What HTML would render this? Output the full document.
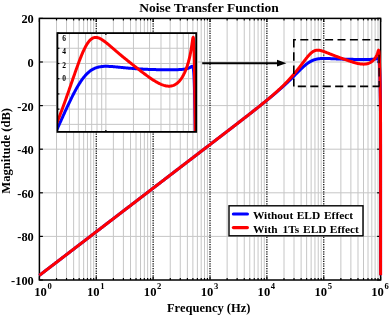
<!DOCTYPE html>
<html><head><meta charset="utf-8"><style>
html,body{margin:0;padding:0;background:#fff;}
svg{display:block;will-change:transform;}
</style></head><body>
<svg width="390" height="315" viewBox="0 0 390 315">
<rect width="390" height="315" fill="#fff"/>
<g stroke="#c6c6c6" stroke-width="1">
<line x1="56.52" y1="18.4" x2="56.52" y2="280.0"/>
<line x1="66.53" y1="18.4" x2="66.53" y2="280.0"/>
<line x1="73.64" y1="18.4" x2="73.64" y2="280.0"/>
<line x1="79.15" y1="18.4" x2="79.15" y2="280.0"/>
<line x1="83.65" y1="18.4" x2="83.65" y2="280.0"/>
<line x1="87.46" y1="18.4" x2="87.46" y2="280.0"/>
<line x1="90.76" y1="18.4" x2="90.76" y2="280.0"/>
<line x1="93.67" y1="18.4" x2="93.67" y2="280.0"/>
<line x1="113.39" y1="18.4" x2="113.39" y2="280.0"/>
<line x1="123.4" y1="18.4" x2="123.4" y2="280.0"/>
<line x1="130.51" y1="18.4" x2="130.51" y2="280.0"/>
<line x1="136.02" y1="18.4" x2="136.02" y2="280.0"/>
<line x1="140.52" y1="18.4" x2="140.52" y2="280.0"/>
<line x1="144.33" y1="18.4" x2="144.33" y2="280.0"/>
<line x1="147.63" y1="18.4" x2="147.63" y2="280.0"/>
<line x1="150.54" y1="18.4" x2="150.54" y2="280.0"/>
<line x1="170.26" y1="18.4" x2="170.26" y2="280.0"/>
<line x1="180.27" y1="18.4" x2="180.27" y2="280.0"/>
<line x1="187.38" y1="18.4" x2="187.38" y2="280.0"/>
<line x1="192.89" y1="18.4" x2="192.89" y2="280.0"/>
<line x1="197.39" y1="18.4" x2="197.39" y2="280.0"/>
<line x1="201.2" y1="18.4" x2="201.2" y2="280.0"/>
<line x1="204.5" y1="18.4" x2="204.5" y2="280.0"/>
<line x1="207.41" y1="18.4" x2="207.41" y2="280.0"/>
<line x1="227.13" y1="18.4" x2="227.13" y2="280.0"/>
<line x1="237.14" y1="18.4" x2="237.14" y2="280.0"/>
<line x1="244.25" y1="18.4" x2="244.25" y2="280.0"/>
<line x1="249.76" y1="18.4" x2="249.76" y2="280.0"/>
<line x1="254.26" y1="18.4" x2="254.26" y2="280.0"/>
<line x1="258.07" y1="18.4" x2="258.07" y2="280.0"/>
<line x1="261.37" y1="18.4" x2="261.37" y2="280.0"/>
<line x1="264.28" y1="18.4" x2="264.28" y2="280.0"/>
<line x1="284" y1="18.4" x2="284" y2="280.0"/>
<line x1="294.01" y1="18.4" x2="294.01" y2="280.0"/>
<line x1="301.12" y1="18.4" x2="301.12" y2="280.0"/>
<line x1="306.63" y1="18.4" x2="306.63" y2="280.0"/>
<line x1="311.13" y1="18.4" x2="311.13" y2="280.0"/>
<line x1="314.94" y1="18.4" x2="314.94" y2="280.0"/>
<line x1="318.24" y1="18.4" x2="318.24" y2="280.0"/>
<line x1="321.15" y1="18.4" x2="321.15" y2="280.0"/>
<line x1="340.87" y1="18.4" x2="340.87" y2="280.0"/>
<line x1="350.88" y1="18.4" x2="350.88" y2="280.0"/>
<line x1="357.99" y1="18.4" x2="357.99" y2="280.0"/>
<line x1="363.5" y1="18.4" x2="363.5" y2="280.0"/>
<line x1="368" y1="18.4" x2="368" y2="280.0"/>
<line x1="371.81" y1="18.4" x2="371.81" y2="280.0"/>
<line x1="375.11" y1="18.4" x2="375.11" y2="280.0"/>
<line x1="378.02" y1="18.4" x2="378.02" y2="280.0"/>
<line x1="39.4" y1="62" x2="380.62" y2="62"/>
<line x1="39.4" y1="105.6" x2="380.62" y2="105.6"/>
<line x1="39.4" y1="149.2" x2="380.62" y2="149.2"/>
<line x1="39.4" y1="192.8" x2="380.62" y2="192.8"/>
<line x1="39.4" y1="236.4" x2="380.62" y2="236.4"/>
</g>
<g stroke="#000" stroke-width="1.25" stroke-dasharray="1.25 1.15">
<line x1="96.27" y1="18.4" x2="96.27" y2="280.0"/>
<line x1="153.14" y1="18.4" x2="153.14" y2="280.0"/>
<line x1="210.01" y1="18.4" x2="210.01" y2="280.0"/>
<line x1="266.88" y1="18.4" x2="266.88" y2="280.0"/>
<line x1="323.75" y1="18.4" x2="323.75" y2="280.0"/>
</g>
<g stroke="#000" stroke-width="1.2">
<line x1="39.4" y1="280.0" x2="39.4" y2="276.5"/>
<line x1="39.4" y1="18.4" x2="39.4" y2="21.9"/>
<line x1="56.52" y1="280.0" x2="56.52" y2="278.0"/>
<line x1="56.52" y1="18.4" x2="56.52" y2="20.4"/>
<line x1="66.53" y1="280.0" x2="66.53" y2="278.0"/>
<line x1="66.53" y1="18.4" x2="66.53" y2="20.4"/>
<line x1="73.64" y1="280.0" x2="73.64" y2="278.0"/>
<line x1="73.64" y1="18.4" x2="73.64" y2="20.4"/>
<line x1="79.15" y1="280.0" x2="79.15" y2="278.0"/>
<line x1="79.15" y1="18.4" x2="79.15" y2="20.4"/>
<line x1="83.65" y1="280.0" x2="83.65" y2="278.0"/>
<line x1="83.65" y1="18.4" x2="83.65" y2="20.4"/>
<line x1="87.46" y1="280.0" x2="87.46" y2="278.0"/>
<line x1="87.46" y1="18.4" x2="87.46" y2="20.4"/>
<line x1="90.76" y1="280.0" x2="90.76" y2="278.0"/>
<line x1="90.76" y1="18.4" x2="90.76" y2="20.4"/>
<line x1="93.67" y1="280.0" x2="93.67" y2="278.0"/>
<line x1="93.67" y1="18.4" x2="93.67" y2="20.4"/>
<line x1="96.27" y1="280.0" x2="96.27" y2="276.5"/>
<line x1="96.27" y1="18.4" x2="96.27" y2="21.9"/>
<line x1="113.39" y1="280.0" x2="113.39" y2="278.0"/>
<line x1="113.39" y1="18.4" x2="113.39" y2="20.4"/>
<line x1="123.4" y1="280.0" x2="123.4" y2="278.0"/>
<line x1="123.4" y1="18.4" x2="123.4" y2="20.4"/>
<line x1="130.51" y1="280.0" x2="130.51" y2="278.0"/>
<line x1="130.51" y1="18.4" x2="130.51" y2="20.4"/>
<line x1="136.02" y1="280.0" x2="136.02" y2="278.0"/>
<line x1="136.02" y1="18.4" x2="136.02" y2="20.4"/>
<line x1="140.52" y1="280.0" x2="140.52" y2="278.0"/>
<line x1="140.52" y1="18.4" x2="140.52" y2="20.4"/>
<line x1="144.33" y1="280.0" x2="144.33" y2="278.0"/>
<line x1="144.33" y1="18.4" x2="144.33" y2="20.4"/>
<line x1="147.63" y1="280.0" x2="147.63" y2="278.0"/>
<line x1="147.63" y1="18.4" x2="147.63" y2="20.4"/>
<line x1="150.54" y1="280.0" x2="150.54" y2="278.0"/>
<line x1="150.54" y1="18.4" x2="150.54" y2="20.4"/>
<line x1="153.14" y1="280.0" x2="153.14" y2="276.5"/>
<line x1="153.14" y1="18.4" x2="153.14" y2="21.9"/>
<line x1="170.26" y1="280.0" x2="170.26" y2="278.0"/>
<line x1="170.26" y1="18.4" x2="170.26" y2="20.4"/>
<line x1="180.27" y1="280.0" x2="180.27" y2="278.0"/>
<line x1="180.27" y1="18.4" x2="180.27" y2="20.4"/>
<line x1="187.38" y1="280.0" x2="187.38" y2="278.0"/>
<line x1="187.38" y1="18.4" x2="187.38" y2="20.4"/>
<line x1="192.89" y1="280.0" x2="192.89" y2="278.0"/>
<line x1="192.89" y1="18.4" x2="192.89" y2="20.4"/>
<line x1="197.39" y1="280.0" x2="197.39" y2="278.0"/>
<line x1="197.39" y1="18.4" x2="197.39" y2="20.4"/>
<line x1="201.2" y1="280.0" x2="201.2" y2="278.0"/>
<line x1="201.2" y1="18.4" x2="201.2" y2="20.4"/>
<line x1="204.5" y1="280.0" x2="204.5" y2="278.0"/>
<line x1="204.5" y1="18.4" x2="204.5" y2="20.4"/>
<line x1="207.41" y1="280.0" x2="207.41" y2="278.0"/>
<line x1="207.41" y1="18.4" x2="207.41" y2="20.4"/>
<line x1="210.01" y1="280.0" x2="210.01" y2="276.5"/>
<line x1="210.01" y1="18.4" x2="210.01" y2="21.9"/>
<line x1="227.13" y1="280.0" x2="227.13" y2="278.0"/>
<line x1="227.13" y1="18.4" x2="227.13" y2="20.4"/>
<line x1="237.14" y1="280.0" x2="237.14" y2="278.0"/>
<line x1="237.14" y1="18.4" x2="237.14" y2="20.4"/>
<line x1="244.25" y1="280.0" x2="244.25" y2="278.0"/>
<line x1="244.25" y1="18.4" x2="244.25" y2="20.4"/>
<line x1="249.76" y1="280.0" x2="249.76" y2="278.0"/>
<line x1="249.76" y1="18.4" x2="249.76" y2="20.4"/>
<line x1="254.26" y1="280.0" x2="254.26" y2="278.0"/>
<line x1="254.26" y1="18.4" x2="254.26" y2="20.4"/>
<line x1="258.07" y1="280.0" x2="258.07" y2="278.0"/>
<line x1="258.07" y1="18.4" x2="258.07" y2="20.4"/>
<line x1="261.37" y1="280.0" x2="261.37" y2="278.0"/>
<line x1="261.37" y1="18.4" x2="261.37" y2="20.4"/>
<line x1="264.28" y1="280.0" x2="264.28" y2="278.0"/>
<line x1="264.28" y1="18.4" x2="264.28" y2="20.4"/>
<line x1="266.88" y1="280.0" x2="266.88" y2="276.5"/>
<line x1="266.88" y1="18.4" x2="266.88" y2="21.9"/>
<line x1="284" y1="280.0" x2="284" y2="278.0"/>
<line x1="284" y1="18.4" x2="284" y2="20.4"/>
<line x1="294.01" y1="280.0" x2="294.01" y2="278.0"/>
<line x1="294.01" y1="18.4" x2="294.01" y2="20.4"/>
<line x1="301.12" y1="280.0" x2="301.12" y2="278.0"/>
<line x1="301.12" y1="18.4" x2="301.12" y2="20.4"/>
<line x1="306.63" y1="280.0" x2="306.63" y2="278.0"/>
<line x1="306.63" y1="18.4" x2="306.63" y2="20.4"/>
<line x1="311.13" y1="280.0" x2="311.13" y2="278.0"/>
<line x1="311.13" y1="18.4" x2="311.13" y2="20.4"/>
<line x1="314.94" y1="280.0" x2="314.94" y2="278.0"/>
<line x1="314.94" y1="18.4" x2="314.94" y2="20.4"/>
<line x1="318.24" y1="280.0" x2="318.24" y2="278.0"/>
<line x1="318.24" y1="18.4" x2="318.24" y2="20.4"/>
<line x1="321.15" y1="280.0" x2="321.15" y2="278.0"/>
<line x1="321.15" y1="18.4" x2="321.15" y2="20.4"/>
<line x1="323.75" y1="280.0" x2="323.75" y2="276.5"/>
<line x1="323.75" y1="18.4" x2="323.75" y2="21.9"/>
<line x1="340.87" y1="280.0" x2="340.87" y2="278.0"/>
<line x1="340.87" y1="18.4" x2="340.87" y2="20.4"/>
<line x1="350.88" y1="280.0" x2="350.88" y2="278.0"/>
<line x1="350.88" y1="18.4" x2="350.88" y2="20.4"/>
<line x1="357.99" y1="280.0" x2="357.99" y2="278.0"/>
<line x1="357.99" y1="18.4" x2="357.99" y2="20.4"/>
<line x1="363.5" y1="280.0" x2="363.5" y2="278.0"/>
<line x1="363.5" y1="18.4" x2="363.5" y2="20.4"/>
<line x1="368" y1="280.0" x2="368" y2="278.0"/>
<line x1="368" y1="18.4" x2="368" y2="20.4"/>
<line x1="371.81" y1="280.0" x2="371.81" y2="278.0"/>
<line x1="371.81" y1="18.4" x2="371.81" y2="20.4"/>
<line x1="375.11" y1="280.0" x2="375.11" y2="278.0"/>
<line x1="375.11" y1="18.4" x2="375.11" y2="20.4"/>
<line x1="378.02" y1="280.0" x2="378.02" y2="278.0"/>
<line x1="378.02" y1="18.4" x2="378.02" y2="20.4"/>
<line x1="380.62" y1="280.0" x2="380.62" y2="276.5"/>
<line x1="380.62" y1="18.4" x2="380.62" y2="21.9"/>
<line x1="39.4" y1="18.4" x2="42.9" y2="18.4"/>
<line x1="380.62" y1="18.4" x2="377.12" y2="18.4"/>
<line x1="39.4" y1="62" x2="42.9" y2="62"/>
<line x1="380.62" y1="62" x2="377.12" y2="62"/>
<line x1="39.4" y1="105.6" x2="42.9" y2="105.6"/>
<line x1="380.62" y1="105.6" x2="377.12" y2="105.6"/>
<line x1="39.4" y1="149.2" x2="42.9" y2="149.2"/>
<line x1="380.62" y1="149.2" x2="377.12" y2="149.2"/>
<line x1="39.4" y1="192.8" x2="42.9" y2="192.8"/>
<line x1="380.62" y1="192.8" x2="377.12" y2="192.8"/>
<line x1="39.4" y1="236.4" x2="42.9" y2="236.4"/>
<line x1="380.62" y1="236.4" x2="377.12" y2="236.4"/>
<line x1="39.4" y1="280" x2="42.9" y2="280"/>
<line x1="380.62" y1="280" x2="377.12" y2="280"/>
</g>
<rect x="39.4" y="18.4" width="341.22" height="261.6" fill="none" stroke="#000" stroke-width="1.5"/>
<clipPath id="mc"><rect x="37.4" y="18.4" width="345.22" height="261.6"/></clipPath>
<g clip-path="url(#mc)" fill="none" stroke-width="3" stroke-linejoin="round">
<path stroke="#0000ff" d="M39.4,275.36 L39.86,275.01 L40.31,274.66 L40.77,274.32 L41.22,273.97 L41.68,273.62 L42.13,273.27 L42.59,272.92 L43.04,272.57 L43.5,272.22 L43.95,271.87 L44.41,271.52 L44.86,271.17 L45.32,270.83 L45.77,270.48 L46.23,270.13 L46.68,269.78 L47.14,269.43 L47.59,269.08 L48.05,268.73 L48.51,268.38 L48.96,268.03 L49.42,267.68 L49.87,267.34 L50.33,266.99 L50.78,266.64 L51.24,266.29 L51.69,265.94 L52.15,265.59 L52.6,265.24 L53.06,264.89 L53.51,264.54 L53.97,264.19 L54.42,263.84 L54.88,263.5 L55.33,263.15 L55.79,262.8 L56.24,262.45 L56.7,262.1 L57.16,261.75 L57.61,261.4 L58.07,261.05 L58.52,260.7 L58.98,260.35 L59.43,260.01 L59.89,259.66 L60.34,259.31 L60.8,258.96 L61.25,258.61 L61.71,258.26 L62.16,257.91 L62.62,257.56 L63.07,257.21 L63.53,256.86 L63.98,256.52 L64.44,256.17 L64.89,255.82 L65.35,255.47 L65.81,255.12 L66.26,254.77 L66.72,254.42 L67.17,254.07 L67.63,253.72 L68.08,253.37 L68.54,253.02 L68.99,252.68 L69.45,252.33 L69.9,251.98 L70.36,251.63 L70.81,251.28 L71.27,250.93 L71.72,250.58 L72.18,250.23 L72.63,249.88 L73.09,249.53 L73.54,249.19 L74,248.84 L74.46,248.49 L74.91,248.14 L75.37,247.79 L75.82,247.44 L76.28,247.09 L76.73,246.74 L77.19,246.39 L77.64,246.04 L78.1,245.7 L78.55,245.35 L79.01,245 L79.46,244.65 L79.92,244.3 L80.37,243.95 L80.83,243.6 L81.28,243.25 L81.74,242.9 L82.19,242.55 L82.65,242.2 L83.11,241.86 L83.56,241.51 L84.02,241.16 L84.47,240.81 L84.93,240.46 L85.38,240.11 L85.84,239.76 L86.29,239.41 L86.75,239.06 L87.2,238.71 L87.66,238.37 L88.11,238.02 L88.57,237.67 L89.02,237.32 L89.48,236.97 L89.93,236.62 L90.39,236.27 L90.84,235.92 L91.3,235.57 L91.76,235.22 L92.21,234.88 L92.67,234.53 L93.12,234.18 L93.58,233.83 L94.03,233.48 L94.49,233.13 L94.94,232.78 L95.4,232.43 L95.85,232.08 L96.31,231.73 L96.76,231.38 L97.22,231.04 L97.67,230.69 L98.13,230.34 L98.58,229.99 L99.04,229.64 L99.49,229.29 L99.95,228.94 L100.41,228.59 L100.86,228.24 L101.32,227.89 L101.77,227.55 L102.23,227.2 L102.68,226.85 L103.14,226.5 L103.59,226.15 L104.05,225.8 L104.5,225.45 L104.96,225.1 L105.41,224.75 L105.87,224.4 L106.32,224.06 L106.78,223.71 L107.23,223.36 L107.69,223.01 L108.14,222.66 L108.6,222.31 L109.06,221.96 L109.51,221.61 L109.97,221.26 L110.42,220.91 L110.88,220.56 L111.33,220.22 L111.79,219.87 L112.24,219.52 L112.7,219.17 L113.15,218.82 L113.61,218.47 L114.06,218.12 L114.52,217.77 L114.97,217.42 L115.43,217.07 L115.88,216.73 L116.34,216.38 L116.79,216.03 L117.25,215.68 L117.71,215.33 L118.16,214.98 L118.62,214.63 L119.07,214.28 L119.53,213.93 L119.98,213.58 L120.44,213.24 L120.89,212.89 L121.35,212.54 L121.8,212.19 L122.26,211.84 L122.71,211.49 L123.17,211.14 L123.62,210.79 L124.08,210.44 L124.53,210.09 L124.99,209.74 L125.44,209.4 L125.9,209.05 L126.36,208.7 L126.81,208.35 L127.27,208 L127.72,207.65 L128.18,207.3 L128.63,206.95 L129.09,206.6 L129.54,206.25 L130,205.91 L130.45,205.56 L130.91,205.21 L131.36,204.86 L131.82,204.51 L132.27,204.16 L132.73,203.81 L133.18,203.46 L133.64,203.11 L134.09,202.76 L134.55,202.42 L135.01,202.07 L135.46,201.72 L135.92,201.37 L136.37,201.02 L136.83,200.67 L137.28,200.32 L137.74,199.97 L138.19,199.62 L138.65,199.27 L139.1,198.92 L139.56,198.58 L140.01,198.23 L140.47,197.88 L140.92,197.53 L141.38,197.18 L141.83,196.83 L142.29,196.48 L142.74,196.13 L143.2,195.78 L143.66,195.43 L144.11,195.09 L144.57,194.74 L145.02,194.39 L145.48,194.04 L145.93,193.69 L146.39,193.34 L146.84,192.99 L147.3,192.64 L147.75,192.29 L148.21,191.94 L148.66,191.6 L149.12,191.25 L149.57,190.9 L150.03,190.55 L150.48,190.2 L150.94,189.85 L151.39,189.5 L151.85,189.15 L152.31,188.8 L152.76,188.45 L153.22,188.1 L153.67,187.76 L154.13,187.41 L154.58,187.06 L155.04,186.71 L155.49,186.36 L155.95,186.01 L156.4,185.66 L156.86,185.31 L157.31,184.96 L157.77,184.61 L158.22,184.27 L158.68,183.92 L159.13,183.57 L159.59,183.22 L160.04,182.87 L160.5,182.52 L160.96,182.17 L161.41,181.82 L161.87,181.47 L162.32,181.12 L162.78,180.77 L163.23,180.43 L163.69,180.08 L164.14,179.73 L164.6,179.38 L165.05,179.03 L165.51,178.68 L165.96,178.33 L166.42,177.98 L166.87,177.63 L167.33,177.28 L167.78,176.94 L168.24,176.59 L168.69,176.24 L169.15,175.89 L169.61,175.54 L170.06,175.19 L170.52,174.84 L170.97,174.49 L171.43,174.14 L171.88,173.79 L172.34,173.45 L172.79,173.1 L173.25,172.75 L173.7,172.4 L174.16,172.05 L174.61,171.7 L175.07,171.35 L175.52,171 L175.98,170.65 L176.43,170.3 L176.89,169.95 L177.34,169.61 L177.8,169.26 L178.26,168.91 L178.71,168.56 L179.17,168.21 L179.62,167.86 L180.08,167.51 L180.53,167.16 L180.99,166.81 L181.44,166.46 L181.9,166.11 L182.35,165.77 L182.81,165.42 L183.26,165.07 L183.72,164.72 L184.17,164.37 L184.63,164.02 L185.08,163.67 L185.54,163.32 L185.99,162.97 L186.45,162.62 L186.91,162.28 L187.36,161.93 L187.82,161.58 L188.27,161.23 L188.73,160.88 L189.18,160.53 L189.64,160.18 L190.09,159.83 L190.55,159.48 L191,159.13 L191.46,158.78 L191.91,158.44 L192.37,158.09 L192.82,157.74 L193.28,157.39 L193.73,157.04 L194.19,156.69 L194.64,156.34 L195.1,155.99 L195.56,155.64 L196.01,155.29 L196.47,154.94 L196.92,154.59 L197.38,154.25 L197.83,153.9 L198.29,153.55 L198.74,153.2 L199.2,152.85 L199.65,152.5 L200.11,152.15 L200.56,151.8 L201.02,151.45 L201.47,151.1 L201.93,150.75 L202.38,150.4 L202.84,150.06 L203.29,149.71 L203.75,149.36 L204.21,149.01 L204.66,148.66 L205.12,148.31 L205.57,147.96 L206.03,147.61 L206.48,147.26 L206.94,146.91 L207.39,146.56 L207.85,146.21 L208.3,145.86 L208.76,145.52 L209.21,145.17 L209.67,144.82 L210.12,144.47 L210.58,144.12 L211.03,143.77 L211.49,143.42 L211.94,143.07 L212.4,142.72 L212.86,142.37 L213.31,142.02 L213.77,141.67 L214.22,141.32 L214.68,140.97 L215.13,140.62 L215.59,140.27 L216.04,139.92 L216.5,139.58 L216.95,139.23 L217.41,138.88 L217.86,138.53 L218.32,138.18 L218.77,137.83 L219.23,137.48 L219.68,137.13 L220.14,136.78 L220.59,136.43 L221.05,136.08 L221.51,135.73 L221.96,135.38 L222.42,135.03 L222.87,134.68 L223.33,134.33 L223.78,133.98 L224.24,133.63 L224.69,133.28 L225.15,132.93 L225.6,132.58 L226.06,132.23 L226.51,131.88 L226.97,131.53 L227.42,131.18 L227.88,130.83 L228.33,130.48 L228.79,130.13 L229.24,129.78 L229.7,129.43 L230.16,129.08 L230.61,128.73 L231.07,128.38 L231.52,128.02 L231.98,127.67 L232.43,127.32 L232.89,126.97 L233.34,126.62 L233.8,126.27 L234.25,125.92 L234.71,125.57 L235.16,125.22 L235.62,124.86 L236.07,124.51 L236.53,124.16 L236.98,123.81 L237.44,123.46 L237.89,123.11 L238.35,122.75 L238.81,122.4 L239.26,122.05 L239.72,121.7 L240.17,121.35 L240.63,120.99 L241.08,120.64 L241.54,120.29 L241.99,119.93 L242.45,119.58 L242.9,119.23 L243.36,118.87 L243.81,118.52 L244.27,118.17 L244.72,117.81 L245.18,117.46 L245.63,117.11 L246.09,116.75 L246.54,116.4 L247,116.04 L247.46,115.69 L247.91,115.33 L248.37,114.98 L248.82,114.62 L249.28,114.26 L249.73,113.91 L250.19,113.55 L250.64,113.19 L251.1,112.84 L251.55,112.48 L252.01,112.12 L252.46,111.76 L252.92,111.4 L253.37,111.05 L253.83,110.69 L254.28,110.33 L254.74,109.97 L255.19,109.61 L255.65,109.25 L256.11,108.88 L256.56,108.52 L257.02,108.16 L257.47,107.8 L257.93,107.43 L258.38,107.07 L258.84,106.71 L259.29,106.34 L259.75,105.98 L260.2,105.61 L260.66,105.25 L261.11,104.88 L261.57,104.52 L262.02,104.16 L262.48,103.79 L262.93,103.43 L263.39,103.07 L263.84,102.7 L264.3,102.34 L264.76,101.98 L265.21,101.61 L265.67,101.24 L266.12,100.88 L266.58,100.51 L267.03,100.14 L267.49,99.77 L267.94,99.4 L268.4,99.03 L268.85,98.66 L269.31,98.28 L269.76,97.91 L270.22,97.53 L270.67,97.16 L271.13,96.78 L271.58,96.4 L272.04,96.02 L272.49,95.64 L272.95,95.26 L273.41,94.88 L273.86,94.49 L274.32,94.11 L274.77,93.72 L275.23,93.34 L275.68,92.95 L276.14,92.56 L276.59,92.17 L277.05,91.77 L277.5,91.38 L277.96,90.98 L278.41,90.59 L278.87,90.19 L279.32,89.79 L279.78,89.39 L280.23,88.99 L280.69,88.58 L281.14,88.18 L281.6,87.77 L282.06,87.36 L282.51,86.95 L282.97,86.54 L283.42,86.13 L283.88,85.71 L284.33,85.3 L284.79,84.88 L285.24,84.46 L285.7,84.05 L286.15,83.63 L286.61,83.2 L287.06,82.78 L287.52,82.36 L287.97,81.94 L288.43,81.51 L288.88,81.09 L289.34,80.66 L289.79,80.23 L290.25,79.78 L290.71,79.33 L291.16,78.87 L291.62,78.42 L292.07,77.96 L292.53,77.51 L292.98,77.05 L293.44,76.59 L293.89,76.13 L294.35,75.67 L294.8,75.21 L295.26,74.75 L295.71,74.29 L296.17,73.82 L296.62,73.36 L297.08,72.9 L297.53,72.44 L297.99,71.99 L298.44,71.53 L298.9,71.07 L299.36,70.62 L299.81,70.17 L300.27,69.73 L300.72,69.28 L301.18,68.84 L301.63,68.41 L302.09,67.98 L302.54,67.55 L303,67.13 L303.45,66.72 L303.91,66.31 L304.36,65.91 L304.82,65.52 L305.27,65.14 L305.73,64.76 L306.18,64.39 L306.64,64.04 L307.09,63.69 L307.55,63.36 L308.01,63.03 L308.46,62.72 L308.92,62.42 L309.37,62.13 L309.83,61.85 L310.28,61.58 L310.74,61.33 L311.19,61.09 L311.65,60.86 L312.1,60.64 L312.56,60.44 L313.01,60.25 L313.47,60.07 L313.92,59.9 L314.38,59.74 L314.83,59.6 L315.29,59.46 L315.74,59.34 L316.2,59.22 L316.66,59.12 L317.11,59.03 L317.57,58.94 L318.02,58.86 L318.48,58.8 L318.93,58.74 L319.39,58.68 L319.84,58.64 L320.3,58.59 L320.75,58.56 L321.21,58.53 L321.66,58.51 L322.12,58.49 L322.57,58.47 L323.03,58.46 L323.48,58.46 L323.94,58.45 L324.39,58.45 L324.85,58.45 L325.31,58.46 L325.76,58.47 L326.22,58.48 L326.67,58.49 L327.13,58.5 L327.58,58.51 L328.04,58.53 L328.49,58.55 L328.95,58.56 L329.4,58.58 L329.86,58.6 L330.31,58.62 L330.77,58.64 L331.22,58.66 L331.68,58.68 L332.13,58.7 L332.59,58.72 L333.04,58.74 L333.5,58.76 L333.96,58.79 L334.41,58.81 L334.87,58.83 L335.32,58.85 L335.78,58.87 L336.23,58.89 L336.69,58.91 L337.14,58.93 L337.6,58.95 L338.05,58.96 L338.51,58.98 L338.96,59 L339.42,59.02 L339.87,59.04 L340.33,59.05 L340.78,59.07 L341.24,59.09 L341.69,59.1 L342.15,59.12 L342.61,59.13 L343.06,59.15 L343.52,59.16 L343.97,59.17 L344.43,59.19 L344.88,59.2 L345.34,59.21 L345.79,59.22 L346.25,59.24 L346.7,59.25 L347.16,59.26 L347.61,59.27 L348.07,59.28 L348.52,59.29 L348.98,59.3 L349.43,59.31 L349.89,59.32 L350.34,59.33 L350.8,59.33 L351.26,59.34 L351.71,59.35 L352.17,59.36 L352.62,59.36 L353.08,59.37 L353.53,59.38 L353.99,59.38 L354.44,59.39 L354.9,59.4 L355.35,59.4 L355.81,59.41 L356.26,59.41 L356.72,59.42 L357.17,59.42 L357.63,59.42 L358.08,59.43 L358.54,59.43 L358.99,59.43 L359.45,59.44 L359.91,59.44 L360.36,59.44 L360.82,59.44 L361.27,59.45 L361.73,59.45 L362.18,59.45 L362.64,59.45 L363.09,59.45 L363.55,59.45 L364,59.45 L364.46,59.45 L364.91,59.45 L365.37,59.45 L365.82,59.44 L366.28,59.44 L366.73,59.44 L367.19,59.44 L367.64,59.43 L368.1,59.43 L368.56,59.42 L369.01,59.41 L369.47,59.4 L369.92,59.39 L370.38,59.38 L370.83,59.37 L371.29,59.36 L371.74,59.34 L372.2,59.32 L372.65,59.3 L373.11,59.27 L373.56,59.24 L374.02,59.2 L374.47,59.15 L374.93,59.1 L375.38,59.03 L375.84,58.95 L376.24,58.87 L376.67,58.76 L377.18,58.62 L377.62,58.5 L378.08,58.46 L378.54,58.8 L378.74,59.24 L378.86,59.68 L378.97,60.26 L379.07,60.97 L379.12,61.38 L379.17,61.83 L379.22,62.32 L379.25,62.73 L379.31,63.39 L379.35,63.98 L379.39,64.59 L379.43,65.24 L379.47,65.91 L379.5,66.6 L379.54,67.31 L379.57,68.04 L379.61,68.79 L379.64,69.55 L379.67,70.32 L379.7,71.1 L379.73,71.88 L379.76,72.67 L379.79,73.46 L379.81,74.26 L379.84,75.05 L379.86,75.84 L379.89,76.64 L379.91,77.43 L379.93,78.21 L379.95,78.99 L379.98,79.77 L380,80.54 L380.02,81.27 L380.03,82 L380.05,82.73 L380.07,83.46 L380.09,84.18 L380.11,84.9 L380.12,85.62 L380.14,86.33 L380.15,87.04 L380.16,87.63 L380.18,88.44 L380.2,89.14 L380.21,89.83 L380.22,90.51 L380.23,91.2 L380.25,91.88 L380.26,92.55 L380.27,93.22 L380.28,93.89 L380.29,94.55 L380.3,95.21 L380.31,95.87 L380.32,96.52 L380.33,97.17 L380.34,97.82 L380.35,98.46 L380.36,99.1 L380.37,99.74 L380.37,100.38 L380.38,101.01 L380.39,101.64 L380.4,102.27 L380.4,102.9 L380.41,103.52 L380.42,104.15 L380.42,104.77 L380.43,105.4 L380.43,106.03 L380.44,106.66 L380.45,107.29 L380.45,107.91 L380.46,108.53 L380.46,109.16 L380.47,109.78 L380.47,110.4 L380.48,111.02 L380.48,111.63 L380.49,112.25 L380.49,112.87 L380.49,113.48 L380.5,114.1 L380.5,114.71 L380.51,115.32 L380.51,115.93 L380.51,116.54 L380.52,117.15 L380.52,117.76 L380.52,118.37 L380.53,118.98 L380.53,119.59 L380.53,120.2 L380.53,120.81 L380.54,121.41 L380.54,122.02 L380.54,122.63 L380.54,123.23 L380.55,123.84 L380.55,124.44 L380.55,125.05 L380.55,125.65 L380.56,126.26 L380.56,126.86 L380.56,127.47 L380.56,128.07 L380.56,128.67 L380.56,129.28 L380.57,129.88 L380.57,130.49 L380.57,131.09 L380.57,131.69 L380.57,132.29 L380.57,132.9 L380.58,133.5 L380.58,134.1 L380.58,134.71 L380.58,135.31 L380.58,135.91 L380.58,136.51 L380.58,137.11 L380.58,137.72 L380.59,138.32 L380.59,138.92 L380.59,139.52 L380.59,140.12 L380.59,140.73 L380.59,141.33 L380.59,141.93 L380.59,142.53 L380.59,143.13 L380.59,143.73 L380.6,144.34 L380.6,144.94 L380.6,145.54 L380.6,146.14 L380.6,146.74 L380.6,147.34 L380.6,147.94 L380.6,148.55 L380.6,149.15 L380.6,149.75 L380.6,150.35 L380.6,150.95 L380.6,151.55 L380.6,152.15 L380.6,152.76 L380.6,153.36 L380.6,153.96 L380.61,154.56 L380.61,155.16 L380.61,155.76 L380.61,156.36 L380.61,156.96 L380.61,157.56 L380.61,158.17 L380.61,158.77 L380.61,159.37 L380.61,159.97 L380.61,160.57 L380.61,161.17 L380.61,161.77 L380.61,162.37 L380.61,162.97 L380.61,163.58 L380.61,164.18 L380.61,164.78 L380.61,165.38 L380.61,165.98 L380.61,166.58 L380.61,167.18 L380.61,167.78 L380.61,168.38 L380.61,168.98 L380.61,169.59 L380.61,170.19 L380.61,170.79 L380.61,171.39 L380.61,171.99 L380.61,172.59 L380.61,173.19 L380.61,173.79 L380.61,174.39 L380.62,175 L380.62,175.6 L380.62,176.2 L380.62,176.8 L380.62,177.4 L380.62,178 L380.62,178.6 L380.62,179.2 L380.62,179.8 L380.62,180.4 L380.62,181.01 L380.62,181.61 L380.62,182.21 L380.62,182.81 L380.62,183.41 L380.62,184.01 L380.62,184.61 L380.62,185.21 L380.62,185.81 L380.62,186.41 L380.62,187.02 L380.62,187.62 L380.62,188.22 L380.62,188.82 L380.62,189.42 L380.62,190.02 L380.62,190.62 L380.62,191.22 L380.62,191.82 L380.62,192.42 L380.62,193.03 L380.62,193.63 L380.62,194.23 L380.62,194.83 L380.62,195.43 L380.62,196.03 L380.62,196.63 L380.62,197.23 L380.62,197.83 L380.62,198.43 L380.62,199.04 L380.62,199.64 L380.62,200.24 L380.62,200.84 L380.62,201.44 L380.62,202.04 L380.62,202.64 L380.62,203.24 L380.62,203.84 L380.62,204.44 L380.62,205.05 L380.62,205.65 L380.62,206.25 L380.62,206.85 L380.62,207.45 L380.62,208.05 L380.62,208.65 L380.62,209.25 L380.62,209.85 L380.62,210.45 L380.62,211.06 L380.62,211.66 L380.62,212.26 L380.62,212.86 L380.62,213.46 L380.62,214.06 L380.62,214.66 L380.62,215.26 L380.62,215.86 L380.62,216.46 L380.62,217.07 L380.62,217.67 L380.62,218.27 L380.62,218.87 L380.62,219.47 L380.62,220.07 L380.62,220.67 L380.62,221.27 L380.62,221.87 L380.62,222.47 L380.62,223.08 L380.62,223.68 L380.62,224.28 L380.62,224.88 L380.62,225.48 L380.62,226.08 L380.62,226.68 L380.62,227.28 L380.62,227.88 L380.62,228.48 L380.62,229.09 L380.62,229.69 L380.62,230.29 L380.62,230.89 L380.62,231.49 L380.62,232.09 L380.62,232.69 L380.62,233.29 L380.62,233.89 L380.62,234.49 L380.62,235.1 L380.62,235.7 L380.62,236.3 L380.62,236.9 L380.62,237.5 L380.62,238.1 L380.62,238.7 L380.62,239.3 L380.62,239.9 L380.62,240.5 L380.62,241.11 L380.62,241.71 L380.62,242.31 L380.62,242.91 L380.62,243.51 L380.62,244.11 L380.62,244.71 L380.62,245.31 L380.62,245.91 L380.62,246.51 L380.62,247.12 L380.62,247.72 L380.62,248.32 L380.62,248.92 L380.62,249.52 L380.62,250.12 L380.62,250.72 L380.62,251.32 L380.62,251.92 L380.62,252.52 L380.62,253.13 L380.62,253.73 L380.62,254.33 L380.62,254.93 L380.62,255.53 L380.62,256.13 L380.62,256.73 L380.62,257.33 L380.62,257.93 L380.62,258.53 L380.62,259.14 L380.62,259.74 L380.62,260.34 L380.62,260.94 L380.62,261.54 L380.62,262.14 L380.62,262.74 L380.62,263.34 L380.62,263.94 L380.62,264.54 L380.62,265.15 L380.62,265.75 L380.62,266.35 L380.62,266.95 L380.62,267.55 L380.62,268.15 L380.62,268.75 L380.62,269.35 L380.62,269.95 L380.62,270.56 L380.62,271.16 L380.62,271.76 L380.62,272.36 L380.62,272.96 L380.62,273.56 L380.62,274.16 L380.62,274.76 L380.62,275.36 L380.62,275.36"/>
<path stroke="#ff0000" d="M39.4,275.36 L39.86,275.01 L40.31,274.66 L40.77,274.32 L41.22,273.97 L41.68,273.62 L42.13,273.27 L42.59,272.92 L43.04,272.57 L43.5,272.22 L43.95,271.87 L44.41,271.52 L44.86,271.17 L45.32,270.83 L45.77,270.48 L46.23,270.13 L46.68,269.78 L47.14,269.43 L47.59,269.08 L48.05,268.73 L48.51,268.38 L48.96,268.03 L49.42,267.68 L49.87,267.34 L50.33,266.99 L50.78,266.64 L51.24,266.29 L51.69,265.94 L52.15,265.59 L52.6,265.24 L53.06,264.89 L53.51,264.54 L53.97,264.19 L54.42,263.84 L54.88,263.5 L55.33,263.15 L55.79,262.8 L56.24,262.45 L56.7,262.1 L57.16,261.75 L57.61,261.4 L58.07,261.05 L58.52,260.7 L58.98,260.35 L59.43,260.01 L59.89,259.66 L60.34,259.31 L60.8,258.96 L61.25,258.61 L61.71,258.26 L62.16,257.91 L62.62,257.56 L63.07,257.21 L63.53,256.86 L63.98,256.52 L64.44,256.17 L64.89,255.82 L65.35,255.47 L65.81,255.12 L66.26,254.77 L66.72,254.42 L67.17,254.07 L67.63,253.72 L68.08,253.37 L68.54,253.02 L68.99,252.68 L69.45,252.33 L69.9,251.98 L70.36,251.63 L70.81,251.28 L71.27,250.93 L71.72,250.58 L72.18,250.23 L72.63,249.88 L73.09,249.53 L73.54,249.19 L74,248.84 L74.46,248.49 L74.91,248.14 L75.37,247.79 L75.82,247.44 L76.28,247.09 L76.73,246.74 L77.19,246.39 L77.64,246.04 L78.1,245.7 L78.55,245.35 L79.01,245 L79.46,244.65 L79.92,244.3 L80.37,243.95 L80.83,243.6 L81.28,243.25 L81.74,242.9 L82.19,242.55 L82.65,242.2 L83.11,241.86 L83.56,241.51 L84.02,241.16 L84.47,240.81 L84.93,240.46 L85.38,240.11 L85.84,239.76 L86.29,239.41 L86.75,239.06 L87.2,238.71 L87.66,238.37 L88.11,238.02 L88.57,237.67 L89.02,237.32 L89.48,236.97 L89.93,236.62 L90.39,236.27 L90.84,235.92 L91.3,235.57 L91.76,235.22 L92.21,234.88 L92.67,234.53 L93.12,234.18 L93.58,233.83 L94.03,233.48 L94.49,233.13 L94.94,232.78 L95.4,232.43 L95.85,232.08 L96.31,231.73 L96.76,231.38 L97.22,231.04 L97.67,230.69 L98.13,230.34 L98.58,229.99 L99.04,229.64 L99.49,229.29 L99.95,228.94 L100.41,228.59 L100.86,228.24 L101.32,227.89 L101.77,227.55 L102.23,227.2 L102.68,226.85 L103.14,226.5 L103.59,226.15 L104.05,225.8 L104.5,225.45 L104.96,225.1 L105.41,224.75 L105.87,224.4 L106.32,224.06 L106.78,223.71 L107.23,223.36 L107.69,223.01 L108.14,222.66 L108.6,222.31 L109.06,221.96 L109.51,221.61 L109.97,221.26 L110.42,220.91 L110.88,220.56 L111.33,220.22 L111.79,219.87 L112.24,219.52 L112.7,219.17 L113.15,218.82 L113.61,218.47 L114.06,218.12 L114.52,217.77 L114.97,217.42 L115.43,217.07 L115.88,216.73 L116.34,216.38 L116.79,216.03 L117.25,215.68 L117.71,215.33 L118.16,214.98 L118.62,214.63 L119.07,214.28 L119.53,213.93 L119.98,213.58 L120.44,213.24 L120.89,212.89 L121.35,212.54 L121.8,212.19 L122.26,211.84 L122.71,211.49 L123.17,211.14 L123.62,210.79 L124.08,210.44 L124.53,210.09 L124.99,209.74 L125.44,209.4 L125.9,209.05 L126.36,208.7 L126.81,208.35 L127.27,208 L127.72,207.65 L128.18,207.3 L128.63,206.95 L129.09,206.6 L129.54,206.25 L130,205.91 L130.45,205.56 L130.91,205.21 L131.36,204.86 L131.82,204.51 L132.27,204.16 L132.73,203.81 L133.18,203.46 L133.64,203.11 L134.09,202.76 L134.55,202.42 L135.01,202.07 L135.46,201.72 L135.92,201.37 L136.37,201.02 L136.83,200.67 L137.28,200.32 L137.74,199.97 L138.19,199.62 L138.65,199.27 L139.1,198.92 L139.56,198.58 L140.01,198.23 L140.47,197.88 L140.92,197.53 L141.38,197.18 L141.83,196.83 L142.29,196.48 L142.74,196.13 L143.2,195.78 L143.66,195.43 L144.11,195.09 L144.57,194.74 L145.02,194.39 L145.48,194.04 L145.93,193.69 L146.39,193.34 L146.84,192.99 L147.3,192.64 L147.75,192.29 L148.21,191.94 L148.66,191.6 L149.12,191.25 L149.57,190.9 L150.03,190.55 L150.48,190.2 L150.94,189.85 L151.39,189.5 L151.85,189.15 L152.31,188.8 L152.76,188.45 L153.22,188.1 L153.67,187.76 L154.13,187.41 L154.58,187.06 L155.04,186.71 L155.49,186.36 L155.95,186.01 L156.4,185.66 L156.86,185.31 L157.31,184.96 L157.77,184.61 L158.22,184.27 L158.68,183.92 L159.13,183.57 L159.59,183.22 L160.04,182.87 L160.5,182.52 L160.96,182.17 L161.41,181.82 L161.87,181.47 L162.32,181.12 L162.78,180.77 L163.23,180.43 L163.69,180.08 L164.14,179.73 L164.6,179.38 L165.05,179.03 L165.51,178.68 L165.96,178.33 L166.42,177.98 L166.87,177.63 L167.33,177.28 L167.78,176.94 L168.24,176.59 L168.69,176.24 L169.15,175.89 L169.61,175.54 L170.06,175.19 L170.52,174.84 L170.97,174.49 L171.43,174.14 L171.88,173.79 L172.34,173.45 L172.79,173.1 L173.25,172.75 L173.7,172.4 L174.16,172.05 L174.61,171.7 L175.07,171.35 L175.52,171 L175.98,170.65 L176.43,170.3 L176.89,169.95 L177.34,169.61 L177.8,169.26 L178.26,168.91 L178.71,168.56 L179.17,168.21 L179.62,167.86 L180.08,167.51 L180.53,167.16 L180.99,166.81 L181.44,166.46 L181.9,166.11 L182.35,165.77 L182.81,165.42 L183.26,165.07 L183.72,164.72 L184.17,164.37 L184.63,164.02 L185.08,163.67 L185.54,163.32 L185.99,162.97 L186.45,162.62 L186.91,162.28 L187.36,161.93 L187.82,161.58 L188.27,161.23 L188.73,160.88 L189.18,160.53 L189.64,160.18 L190.09,159.83 L190.55,159.48 L191,159.13 L191.46,158.78 L191.91,158.44 L192.37,158.09 L192.82,157.74 L193.28,157.39 L193.73,157.04 L194.19,156.69 L194.64,156.34 L195.1,155.99 L195.56,155.64 L196.01,155.29 L196.47,154.94 L196.92,154.59 L197.38,154.25 L197.83,153.9 L198.29,153.55 L198.74,153.2 L199.2,152.85 L199.65,152.5 L200.11,152.15 L200.56,151.8 L201.02,151.45 L201.47,151.1 L201.93,150.75 L202.38,150.4 L202.84,150.06 L203.29,149.71 L203.75,149.36 L204.21,149.01 L204.66,148.66 L205.12,148.31 L205.57,147.96 L206.03,147.61 L206.48,147.26 L206.94,146.91 L207.39,146.56 L207.85,146.21 L208.3,145.86 L208.76,145.52 L209.21,145.17 L209.67,144.82 L210.12,144.47 L210.58,144.12 L211.03,143.77 L211.49,143.42 L211.94,143.07 L212.4,142.72 L212.86,142.37 L213.31,142.02 L213.77,141.67 L214.22,141.32 L214.68,140.97 L215.13,140.62 L215.59,140.27 L216.04,139.92 L216.5,139.58 L216.95,139.23 L217.41,138.88 L217.86,138.53 L218.32,138.18 L218.77,137.83 L219.23,137.48 L219.68,137.13 L220.14,136.78 L220.59,136.43 L221.05,136.08 L221.51,135.73 L221.96,135.38 L222.42,135.03 L222.87,134.68 L223.33,134.33 L223.78,133.98 L224.24,133.63 L224.69,133.28 L225.15,132.93 L225.6,132.58 L226.06,132.23 L226.51,131.88 L226.97,131.53 L227.42,131.18 L227.88,130.83 L228.33,130.48 L228.79,130.13 L229.24,129.78 L229.7,129.43 L230.16,129.08 L230.61,128.73 L231.07,128.38 L231.52,128.02 L231.98,127.67 L232.43,127.32 L232.89,126.97 L233.34,126.62 L233.8,126.27 L234.25,125.92 L234.71,125.57 L235.16,125.22 L235.62,124.86 L236.07,124.51 L236.53,124.16 L236.98,123.81 L237.44,123.46 L237.89,123.11 L238.35,122.75 L238.81,122.4 L239.26,122.05 L239.72,121.7 L240.17,121.35 L240.63,120.99 L241.08,120.64 L241.54,120.29 L241.99,119.93 L242.45,119.58 L242.9,119.23 L243.36,118.87 L243.81,118.52 L244.27,118.17 L244.72,117.81 L245.18,117.46 L245.63,117.11 L246.09,116.75 L246.54,116.4 L247,116.04 L247.46,115.69 L247.91,115.33 L248.37,114.98 L248.82,114.62 L249.28,114.26 L249.73,113.91 L250.19,113.55 L250.64,113.19 L251.1,112.84 L251.55,112.48 L252.01,112.12 L252.46,111.76 L252.92,111.4 L253.37,111.05 L253.83,110.69 L254.28,110.33 L254.74,109.97 L255.19,109.61 L255.65,109.25 L256.11,108.88 L256.56,108.52 L257.02,108.16 L257.47,107.8 L257.93,107.43 L258.38,107.07 L258.84,106.71 L259.29,106.34 L259.75,105.98 L260.2,105.61 L260.66,105.25 L261.11,104.88 L261.57,104.51 L262.02,104.14 L262.48,103.77 L262.93,103.4 L263.39,103.03 L263.84,102.66 L264.3,102.29 L264.76,101.92 L265.21,101.54 L265.67,101.17 L266.12,100.79 L266.58,100.41 L267.03,100.04 L267.49,99.66 L267.94,99.28 L268.4,98.9 L268.85,98.51 L269.31,98.13 L269.76,97.75 L270.22,97.36 L270.67,96.97 L271.13,96.59 L271.58,96.2 L272.04,95.81 L272.49,95.41 L272.95,95.02 L273.41,94.62 L273.86,94.23 L274.32,93.83 L274.77,93.43 L275.23,93.02 L275.68,92.62 L276.14,92.21 L276.59,91.8 L277.05,91.39 L277.5,90.98 L277.96,90.57 L278.41,90.15 L278.87,89.73 L279.32,89.31 L279.78,88.89 L280.23,88.46 L280.69,88.03 L281.14,87.6 L281.6,87.17 L282.06,86.73 L282.51,86.29 L282.97,85.85 L283.42,85.4 L283.88,84.96 L284.33,84.51 L284.79,84.05 L285.24,83.59 L285.7,83.13 L286.15,82.67 L286.61,82.2 L287.06,81.73 L287.52,81.25 L287.97,80.77 L288.43,80.29 L288.88,79.8 L289.34,79.31 L289.79,78.82 L290.25,78.32 L290.71,77.81 L291.16,77.31 L291.62,76.79 L292.07,76.28 L292.53,75.76 L292.98,75.23 L293.44,74.7 L293.89,74.17 L294.35,73.63 L294.8,73.09 L295.26,72.54 L295.71,71.99 L296.17,71.43 L296.62,70.87 L297.08,70.31 L297.53,69.74 L297.99,69.16 L298.44,68.59 L298.9,68 L299.36,67.42 L299.81,66.83 L300.27,66.24 L300.72,65.65 L301.18,65.05 L301.63,64.45 L302.09,63.85 L302.54,63.25 L303,62.65 L303.45,62.05 L303.91,61.44 L304.36,60.85 L304.82,60.25 L305.27,59.66 L305.73,59.07 L306.18,58.49 L306.64,57.92 L307.09,57.36 L307.55,56.8 L308.01,56.26 L308.46,55.73 L308.92,55.22 L309.37,54.73 L309.83,54.25 L310.28,53.8 L310.74,53.36 L311.19,52.95 L311.65,52.57 L312.1,52.21 L312.56,51.88 L313.01,51.58 L313.47,51.31 L313.92,51.07 L314.38,50.86 L314.83,50.68 L315.29,50.52 L315.74,50.4 L316.2,50.3 L316.66,50.23 L317.11,50.19 L317.57,50.17 L318.02,50.17 L318.48,50.2 L318.93,50.24 L319.39,50.3 L319.84,50.38 L320.3,50.47 L320.75,50.58 L321.21,50.7 L321.66,50.83 L322.12,50.96 L322.57,51.11 L323.03,51.26 L323.48,51.42 L323.94,51.58 L324.39,51.74 L324.85,51.91 L325.31,52.09 L325.76,52.26 L326.22,52.44 L326.67,52.62 L327.13,52.8 L327.58,52.98 L328.04,53.16 L328.49,53.34 L328.95,53.52 L329.4,53.7 L329.86,53.88 L330.31,54.05 L330.77,54.23 L331.22,54.41 L331.68,54.59 L332.13,54.76 L332.59,54.94 L333.04,55.11 L333.5,55.29 L333.96,55.46 L334.41,55.63 L334.87,55.8 L335.32,55.98 L335.78,56.15 L336.23,56.32 L336.69,56.48 L337.14,56.65 L337.6,56.82 L338.05,56.99 L338.51,57.16 L338.96,57.32 L339.42,57.49 L339.87,57.66 L340.33,57.82 L340.78,57.99 L341.24,58.15 L341.69,58.32 L342.15,58.48 L342.61,58.64 L343.06,58.81 L343.52,58.97 L343.97,59.13 L344.43,59.3 L344.88,59.46 L345.34,59.62 L345.79,59.78 L346.25,59.94 L346.7,60.1 L347.16,60.26 L347.61,60.42 L348.07,60.57 L348.52,60.73 L348.98,60.88 L349.43,61.04 L349.89,61.19 L350.34,61.34 L350.8,61.49 L351.26,61.64 L351.71,61.78 L352.17,61.93 L352.62,62.07 L353.08,62.21 L353.53,62.34 L353.99,62.48 L354.44,62.61 L354.9,62.74 L355.35,62.86 L355.81,62.98 L356.26,63.1 L356.72,63.21 L357.17,63.32 L357.63,63.42 L358.08,63.52 L358.54,63.61 L358.99,63.69 L359.45,63.77 L359.91,63.85 L360.36,63.91 L360.82,63.97 L361.27,64.02 L361.73,64.06 L362.18,64.1 L362.64,64.12 L363.09,64.14 L363.55,64.14 L364,64.14 L364.46,64.12 L364.91,64.09 L365.37,64.04 L365.82,63.99 L366.28,63.91 L366.73,63.83 L367.19,63.72 L367.64,63.6 L368.1,63.46 L368.56,63.31 L369.01,63.13 L369.47,62.93 L369.92,62.71 L370.38,62.46 L370.83,62.19 L371.29,61.9 L371.74,61.57 L372.2,61.21 L372.65,60.82 L373.11,60.4 L373.56,59.94 L374.02,59.43 L374.39,58.99 L374.7,58.58 L375.02,58.14 L375.38,57.6 L375.76,57 L376.07,56.46 L376.29,56.03 L376.52,55.56 L376.75,55.07 L376.94,54.63 L377.18,54.02 L377.41,53.41 L377.62,52.79 L377.81,52.17 L377.99,51.59 L378.16,51.05 L378.32,50.6 L378.57,50.18 L378.86,50.78 L378.97,51.6 L379.02,52.14 L379.07,52.76 L379.12,53.46 L379.17,54.22 L379.22,55.05 L379.25,55.76 L379.31,56.86 L379.35,57.82 L379.39,58.81 L379.43,59.82 L379.47,60.84 L379.48,61.26 L379.5,61.87 L379.54,62.91 L379.57,63.95 L379.61,64.98 L379.64,66 L379.67,67.02 L379.7,68.03 L379.73,69.03 L379.76,70.02 L379.79,70.99 L379.81,71.95 L379.84,72.9 L379.86,73.84 L379.89,74.76 L379.91,75.67 L379.93,76.56 L379.95,77.44 L379.98,78.31 L380,79.17 L380.02,80.01 L380.03,80.85 L380.05,81.67 L380.07,82.48 L380.09,83.28 L380.11,84.07 L380.12,84.85 L380.14,85.62 L380.15,86.38 L380.16,87.02 L380.18,87.88 L380.2,88.62 L380.21,89.35 L380.22,90.08 L380.23,90.79 L380.25,91.5 L380.26,92.21 L380.27,92.9 L380.28,93.6 L380.29,94.29 L380.3,94.97 L380.31,95.65 L380.32,96.32 L380.33,96.99 L380.34,97.65 L380.35,98.32 L380.36,98.97 L380.37,99.63 L380.37,100.28 L380.38,100.93 L380.39,101.58 L380.4,102.22 L380.4,102.86 L380.41,103.5 L380.42,104.13 L380.42,104.77 L380.43,105.4 L380.43,106.03 L380.44,106.66 L380.45,107.29 L380.45,107.91 L380.46,108.53 L380.46,109.16 L380.47,109.78 L380.47,110.4 L380.48,111.02 L380.48,111.63 L380.49,112.25 L380.49,112.87 L380.49,113.48 L380.5,114.1 L380.5,114.71 L380.51,115.32 L380.51,115.93 L380.51,116.54 L380.52,117.15 L380.52,117.76 L380.52,118.37 L380.53,118.98 L380.53,119.59 L380.53,120.2 L380.53,120.81 L380.54,121.41 L380.54,122.02 L380.54,122.63 L380.54,123.23 L380.55,123.84 L380.55,124.44 L380.55,125.05 L380.55,125.65 L380.56,126.26 L380.56,126.86 L380.56,127.47 L380.56,128.07 L380.56,128.67 L380.56,129.28 L380.57,129.88 L380.57,130.49 L380.57,131.09 L380.57,131.69 L380.57,132.29 L380.57,132.9 L380.58,133.5 L380.58,134.1 L380.58,134.71 L380.58,135.31 L380.58,135.91 L380.58,136.51 L380.58,137.11 L380.58,137.72 L380.59,138.32 L380.59,138.92 L380.59,139.52 L380.59,140.12 L380.59,140.73 L380.59,141.33 L380.59,141.93 L380.59,142.53 L380.59,143.13 L380.59,143.73 L380.6,144.34 L380.6,144.94 L380.6,145.54 L380.6,146.14 L380.6,146.74 L380.6,147.34 L380.6,147.94 L380.6,148.55 L380.6,149.15 L380.6,149.75 L380.6,150.35 L380.6,150.95 L380.6,151.55 L380.6,152.15 L380.6,152.76 L380.6,153.36 L380.6,153.96 L380.61,154.56 L380.61,155.16 L380.61,155.76 L380.61,156.36 L380.61,156.96 L380.61,157.56 L380.61,158.17 L380.61,158.77 L380.61,159.37 L380.61,159.97 L380.61,160.57 L380.61,161.17 L380.61,161.77 L380.61,162.37 L380.61,162.97 L380.61,163.58 L380.61,164.18 L380.61,164.78 L380.61,165.38 L380.61,165.98 L380.61,166.58 L380.61,167.18 L380.61,167.78 L380.61,168.38 L380.61,168.98 L380.61,169.59 L380.61,170.19 L380.61,170.79 L380.61,171.39 L380.61,171.99 L380.61,172.59 L380.61,173.19 L380.61,173.79 L380.61,174.39 L380.62,175 L380.62,175.6 L380.62,176.2 L380.62,176.8 L380.62,177.4 L380.62,178 L380.62,178.6 L380.62,179.2 L380.62,179.8 L380.62,180.4 L380.62,181.01 L380.62,181.61 L380.62,182.21 L380.62,182.81 L380.62,183.41 L380.62,184.01 L380.62,184.61 L380.62,185.21 L380.62,185.81 L380.62,186.41 L380.62,187.02 L380.62,187.62 L380.62,188.22 L380.62,188.82 L380.62,189.42 L380.62,190.02 L380.62,190.62 L380.62,191.22 L380.62,191.82 L380.62,192.42 L380.62,193.03 L380.62,193.63 L380.62,194.23 L380.62,194.83 L380.62,195.43 L380.62,196.03 L380.62,196.63 L380.62,197.23 L380.62,197.83 L380.62,198.43 L380.62,199.04 L380.62,199.64 L380.62,200.24 L380.62,200.84 L380.62,201.44 L380.62,202.04 L380.62,202.64 L380.62,203.24 L380.62,203.84 L380.62,204.44 L380.62,205.05 L380.62,205.65 L380.62,206.25 L380.62,206.85 L380.62,207.45 L380.62,208.05 L380.62,208.65 L380.62,209.25 L380.62,209.85 L380.62,210.45 L380.62,211.06 L380.62,211.66 L380.62,212.26 L380.62,212.86 L380.62,213.46 L380.62,214.06 L380.62,214.66 L380.62,215.26 L380.62,215.86 L380.62,216.46 L380.62,217.07 L380.62,217.67 L380.62,218.27 L380.62,218.87 L380.62,219.47 L380.62,220.07 L380.62,220.67 L380.62,221.27 L380.62,221.87 L380.62,222.47 L380.62,223.08 L380.62,223.68 L380.62,224.28 L380.62,224.88 L380.62,225.48 L380.62,226.08 L380.62,226.68 L380.62,227.28 L380.62,227.88 L380.62,228.48 L380.62,229.09 L380.62,229.69 L380.62,230.29 L380.62,230.89 L380.62,231.49 L380.62,232.09 L380.62,232.69 L380.62,233.29 L380.62,233.89 L380.62,234.49 L380.62,235.1 L380.62,235.7 L380.62,236.3 L380.62,236.9 L380.62,237.5 L380.62,238.1 L380.62,238.7 L380.62,239.3 L380.62,239.9 L380.62,240.5 L380.62,241.11 L380.62,241.71 L380.62,242.31 L380.62,242.91 L380.62,243.51 L380.62,244.11 L380.62,244.71 L380.62,245.31 L380.62,245.91 L380.62,246.51 L380.62,247.12 L380.62,247.72 L380.62,248.32 L380.62,248.92 L380.62,249.52 L380.62,250.12 L380.62,250.72 L380.62,251.32 L380.62,251.92 L380.62,252.52 L380.62,253.13 L380.62,253.73 L380.62,254.33 L380.62,254.93 L380.62,255.53 L380.62,256.13 L380.62,256.73 L380.62,257.33 L380.62,257.93 L380.62,258.53 L380.62,259.14 L380.62,259.74 L380.62,260.34 L380.62,260.94 L380.62,261.54 L380.62,262.14 L380.62,262.74 L380.62,263.34 L380.62,263.94 L380.62,264.54 L380.62,265.15 L380.62,265.75 L380.62,266.35 L380.62,266.95 L380.62,267.55 L380.62,268.15 L380.62,268.75 L380.62,269.35 L380.62,269.95 L380.62,270.56 L380.62,271.16 L380.62,271.76 L380.62,272.36 L380.62,272.96 L380.62,273.56 L380.62,274.16 L380.62,274.76 L380.62,275.36 L380.62,275.36"/>
</g>
<line x1="202.2" y1="63.2" x2="278" y2="63.2" stroke="#000" stroke-width="2"/>
<path d="M277,59.8 L286.4,63.2 L277,66.6 Z" fill="#000"/>
<rect x="57.4" y="33.1" width="138.8" height="98.8" fill="#fff"/>
<g stroke="#c6c6c6" stroke-width="1">
<line x1="69.45" y1="33.1" x2="69.45" y2="131.9"/>
<line x1="78.32" y1="33.1" x2="78.32" y2="131.9"/>
<line x1="85.57" y1="33.1" x2="85.57" y2="131.9"/>
<line x1="91.7" y1="33.1" x2="91.7" y2="131.9"/>
<line x1="97.01" y1="33.1" x2="97.01" y2="131.9"/>
<line x1="101.69" y1="33.1" x2="101.69" y2="131.9"/>
<line x1="105.88" y1="33.1" x2="105.88" y2="131.9"/>
<line x1="133.44" y1="33.1" x2="133.44" y2="131.9"/>
<line x1="149.56" y1="33.1" x2="149.56" y2="131.9"/>
<line x1="160.99" y1="33.1" x2="160.99" y2="131.9"/>
<line x1="169.86" y1="33.1" x2="169.86" y2="131.9"/>
<line x1="177.11" y1="33.1" x2="177.11" y2="131.9"/>
<line x1="183.24" y1="33.1" x2="183.24" y2="131.9"/>
<line x1="188.55" y1="33.1" x2="188.55" y2="131.9"/>
<line x1="193.23" y1="33.1" x2="193.23" y2="131.9"/>
<line x1="57.4" y1="48.26" x2="196.2" y2="48.26"/>
<line x1="57.4" y1="63.48" x2="196.2" y2="63.48"/>
<line x1="57.4" y1="78.7" x2="196.2" y2="78.7"/>
<line x1="57.4" y1="93.92" x2="196.2" y2="93.92"/>
<line x1="57.4" y1="109.14" x2="196.2" y2="109.14"/>
<line x1="57.4" y1="124.36" x2="196.2" y2="124.36"/>
</g>
<g stroke="#000" stroke-width="1.2">
<line x1="57.4" y1="33.04" x2="59.4" y2="33.04"/>
<line x1="57.4" y1="48.26" x2="59.4" y2="48.26"/>
<line x1="57.4" y1="63.48" x2="59.4" y2="63.48"/>
<line x1="57.4" y1="78.7" x2="59.4" y2="78.7"/>
<line x1="57.4" y1="93.92" x2="59.4" y2="93.92"/>
<line x1="57.4" y1="109.14" x2="59.4" y2="109.14"/>
<line x1="57.4" y1="124.36" x2="59.4" y2="124.36"/>
<line x1="105.88" y1="131.9" x2="105.88" y2="129.9"/>
<line x1="105.88" y1="33.1" x2="105.88" y2="35.1"/>
</g>
<clipPath id="ic"><rect x="57.4" y="33.1" width="138.8" height="98.8"/></clipPath>
<g clip-path="url(#ic)" fill="none" stroke-width="3" stroke-linejoin="round">
<path stroke="#0000ff" d="M-349.6,230.9 L-348.87,230.9 L-348.14,230.9 L-347.41,230.9 L-346.69,230.9 L-345.96,230.9 L-345.23,230.9 L-344.5,230.9 L-343.77,230.9 L-343.04,230.9 L-342.32,230.9 L-341.59,230.9 L-340.86,230.9 L-340.13,230.9 L-339.4,230.9 L-338.67,230.9 L-337.94,230.9 L-337.22,230.9 L-336.49,230.9 L-335.76,230.9 L-335.03,230.9 L-334.3,230.9 L-333.57,230.9 L-332.84,230.9 L-332.12,230.9 L-331.39,230.9 L-330.66,230.9 L-329.93,230.9 L-329.2,230.9 L-328.47,230.9 L-327.75,230.9 L-327.02,230.9 L-326.29,230.9 L-325.56,230.9 L-324.83,230.9 L-324.1,230.9 L-323.37,230.9 L-322.65,230.9 L-321.92,230.9 L-321.19,230.9 L-320.46,230.9 L-319.73,230.9 L-319,230.9 L-318.28,230.9 L-317.55,230.9 L-316.82,230.9 L-316.09,230.9 L-315.36,230.9 L-314.63,230.9 L-313.9,230.9 L-313.18,230.9 L-312.45,230.9 L-311.72,230.9 L-310.99,230.9 L-310.26,230.9 L-309.53,230.9 L-308.8,230.9 L-308.08,230.9 L-307.35,230.9 L-306.62,230.9 L-305.89,230.9 L-305.16,230.9 L-304.43,230.9 L-303.71,230.9 L-302.98,230.9 L-302.25,230.9 L-301.52,230.9 L-300.79,230.9 L-300.06,230.9 L-299.33,230.9 L-298.61,230.9 L-297.88,230.9 L-297.15,230.9 L-296.42,230.9 L-295.69,230.9 L-294.96,230.9 L-294.24,230.9 L-293.51,230.9 L-292.78,230.9 L-292.05,230.9 L-291.32,230.9 L-290.59,230.9 L-289.86,230.9 L-289.14,230.9 L-288.41,230.9 L-287.68,230.9 L-286.95,230.9 L-286.22,230.9 L-285.49,230.9 L-284.76,230.9 L-284.04,230.9 L-283.31,230.9 L-282.58,230.9 L-281.85,230.9 L-281.12,230.9 L-280.39,230.9 L-279.67,230.9 L-278.94,230.9 L-278.21,230.9 L-277.48,230.9 L-276.75,230.9 L-276.02,230.9 L-275.29,230.9 L-274.57,230.9 L-273.84,230.9 L-273.11,230.9 L-272.38,230.9 L-271.65,230.9 L-270.92,230.9 L-270.2,230.9 L-269.47,230.9 L-268.74,230.9 L-268.01,230.9 L-267.28,230.9 L-266.55,230.9 L-265.82,230.9 L-265.1,230.9 L-264.37,230.9 L-263.64,230.9 L-262.91,230.9 L-262.18,230.9 L-261.45,230.9 L-260.72,230.9 L-260,230.9 L-259.27,230.9 L-258.54,230.9 L-257.81,230.9 L-257.08,230.9 L-256.35,230.9 L-255.63,230.9 L-254.9,230.9 L-254.17,230.9 L-253.44,230.9 L-252.71,230.9 L-251.98,230.9 L-251.25,230.9 L-250.53,230.9 L-249.8,230.9 L-249.07,230.9 L-248.34,230.9 L-247.61,230.9 L-246.88,230.9 L-246.16,230.9 L-245.43,230.9 L-244.7,230.9 L-243.97,230.9 L-243.24,230.9 L-242.51,230.9 L-241.78,230.9 L-241.06,230.9 L-240.33,230.9 L-239.6,230.9 L-238.87,230.9 L-238.14,230.9 L-237.41,230.9 L-236.68,230.9 L-235.96,230.9 L-235.23,230.9 L-234.5,230.9 L-233.77,230.9 L-233.04,230.9 L-232.31,230.9 L-231.59,230.9 L-230.86,230.9 L-230.13,230.9 L-229.4,230.9 L-228.67,230.9 L-227.94,230.9 L-227.21,230.9 L-226.49,230.9 L-225.76,230.9 L-225.03,230.9 L-224.3,230.9 L-223.57,230.9 L-222.84,230.9 L-222.12,230.9 L-221.39,230.9 L-220.66,230.9 L-219.93,230.9 L-219.2,230.9 L-218.47,230.9 L-217.74,230.9 L-217.02,230.9 L-216.29,230.9 L-215.56,230.9 L-214.83,230.9 L-214.1,230.9 L-213.37,230.9 L-212.64,230.9 L-211.92,230.9 L-211.19,230.9 L-210.46,230.9 L-209.73,230.9 L-209,230.9 L-208.27,230.9 L-207.55,230.9 L-206.82,230.9 L-206.09,230.9 L-205.36,230.9 L-204.63,230.9 L-203.9,230.9 L-203.17,230.9 L-202.45,230.9 L-201.72,230.9 L-200.99,230.9 L-200.26,230.9 L-199.53,230.9 L-198.8,230.9 L-198.07,230.9 L-197.35,230.9 L-196.62,230.9 L-195.89,230.9 L-195.16,230.9 L-194.43,230.9 L-193.7,230.9 L-192.98,230.9 L-192.25,230.9 L-191.52,230.9 L-190.79,230.9 L-190.06,230.9 L-189.33,230.9 L-188.6,230.9 L-187.88,230.9 L-187.15,230.9 L-186.42,230.9 L-185.69,230.9 L-184.96,230.9 L-184.23,230.9 L-183.51,230.9 L-182.78,230.9 L-182.05,230.9 L-181.32,230.9 L-180.59,230.9 L-179.86,230.9 L-179.13,230.9 L-178.41,230.9 L-177.68,230.9 L-176.95,230.9 L-176.22,230.9 L-175.49,230.9 L-174.76,230.9 L-174.03,230.9 L-173.31,230.9 L-172.58,230.9 L-171.85,230.9 L-171.12,230.9 L-170.39,230.9 L-169.66,230.9 L-168.94,230.9 L-168.21,230.9 L-167.48,230.9 L-166.75,230.9 L-166.02,230.9 L-165.29,230.9 L-164.56,230.9 L-163.84,230.9 L-163.11,230.9 L-162.38,230.9 L-161.65,230.9 L-160.92,230.9 L-160.19,230.9 L-159.47,230.9 L-158.74,230.9 L-158.01,230.9 L-157.28,230.9 L-156.55,230.9 L-155.82,230.9 L-155.09,230.9 L-154.37,230.9 L-153.64,230.9 L-152.91,230.9 L-152.18,230.9 L-151.45,230.9 L-150.72,230.9 L-149.99,230.9 L-149.27,230.9 L-148.54,230.9 L-147.81,230.9 L-147.08,230.9 L-146.35,230.9 L-145.62,230.9 L-144.9,230.9 L-144.17,230.9 L-143.44,230.9 L-142.71,230.9 L-141.98,230.9 L-141.25,230.9 L-140.52,230.9 L-139.8,230.9 L-139.07,230.9 L-138.34,230.9 L-137.61,230.9 L-136.88,230.9 L-136.15,230.9 L-135.43,230.9 L-134.7,230.9 L-133.97,230.9 L-133.24,230.9 L-132.51,230.9 L-131.78,230.9 L-131.05,230.9 L-130.33,230.9 L-129.6,230.9 L-128.87,230.9 L-128.14,230.9 L-127.41,230.9 L-126.68,230.9 L-125.95,230.9 L-125.23,230.9 L-124.5,230.9 L-123.77,230.9 L-123.04,230.9 L-122.31,230.9 L-121.58,230.9 L-120.86,230.9 L-120.13,230.9 L-119.4,230.9 L-118.67,230.9 L-117.94,230.9 L-117.21,230.9 L-116.48,230.9 L-115.76,230.9 L-115.03,230.9 L-114.3,230.9 L-113.57,230.9 L-112.84,230.9 L-112.11,230.9 L-111.39,230.9 L-110.66,230.9 L-109.93,230.9 L-109.2,230.9 L-108.47,230.9 L-107.74,230.9 L-107.01,230.9 L-106.29,230.9 L-105.56,230.9 L-104.83,230.9 L-104.1,230.9 L-103.37,230.9 L-102.64,230.9 L-101.91,230.9 L-101.19,230.9 L-100.46,230.9 L-99.73,230.9 L-99,230.9 L-98.27,230.9 L-97.54,230.9 L-96.82,230.9 L-96.09,230.9 L-95.36,230.9 L-94.63,230.9 L-93.9,230.9 L-93.17,230.9 L-92.44,230.9 L-91.72,230.9 L-90.99,230.9 L-90.26,230.9 L-89.53,230.9 L-88.8,230.9 L-88.07,230.9 L-87.35,230.9 L-86.62,230.9 L-85.89,230.9 L-85.16,230.9 L-84.43,230.9 L-83.7,230.9 L-82.97,230.9 L-82.25,230.9 L-81.52,230.9 L-80.79,230.9 L-80.06,230.9 L-79.33,230.9 L-78.6,230.9 L-77.87,230.9 L-77.15,230.9 L-76.42,230.9 L-75.69,230.9 L-74.96,230.9 L-74.23,230.9 L-73.5,230.9 L-72.78,230.9 L-72.05,230.9 L-71.32,230.9 L-70.59,230.9 L-69.86,230.9 L-69.13,230.9 L-68.4,230.9 L-67.68,230.9 L-66.95,230.9 L-66.22,230.9 L-65.49,230.9 L-64.76,230.9 L-64.03,230.9 L-63.31,230.9 L-62.58,230.9 L-61.85,230.9 L-61.12,230.9 L-60.39,230.9 L-59.66,230.9 L-58.93,230.9 L-58.21,230.9 L-57.48,230.9 L-56.75,230.9 L-56.02,230.9 L-55.29,230.9 L-54.56,230.9 L-53.83,230.9 L-53.11,230.9 L-52.38,230.9 L-51.65,230.9 L-50.92,230.9 L-50.19,230.9 L-49.46,230.9 L-48.74,230.9 L-48.01,230.9 L-47.28,230.9 L-46.55,230.9 L-45.82,230.9 L-45.09,230.9 L-44.36,230.9 L-43.64,230.9 L-42.91,230.9 L-42.18,230.9 L-41.45,230.9 L-40.72,230.9 L-39.99,230.9 L-39.27,230.9 L-38.54,230.9 L-37.81,230.9 L-37.08,230.9 L-36.35,230.9 L-35.62,230.9 L-34.89,230.9 L-34.17,230.9 L-33.44,230.9 L-32.71,230.9 L-31.98,230.9 L-31.25,230.9 L-30.52,230.9 L-29.79,230.9 L-29.07,230.9 L-28.34,230.9 L-27.61,230.9 L-26.88,230.9 L-26.15,230.9 L-25.42,230.9 L-24.7,230.9 L-23.97,230.9 L-23.24,230.9 L-22.51,230.9 L-21.78,230.9 L-21.05,230.9 L-20.32,230.9 L-19.6,230.9 L-18.87,230.9 L-18.14,230.9 L-17.41,230.9 L-16.68,230.9 L-15.95,230.9 L-15.23,230.9 L-14.5,230.9 L-13.77,230.9 L-13.04,230.9 L-12.31,230.9 L-11.58,230.9 L-10.85,230.9 L-10.13,230.9 L-9.4,230.9 L-8.67,230.9 L-7.94,230.9 L-7.21,230.9 L-6.48,230.9 L-5.75,230.9 L-5.03,230.9 L-4.3,230.9 L-3.57,230.9 L-2.84,230.9 L-2.11,230.9 L-1.38,230.9 L-0.66,230.9 L0.07,230.9 L0.8,230.9 L1.53,230.9 L2.26,230.9 L2.99,230.9 L3.72,230.9 L4.08,230.3 L4.44,229.66 L4.81,229.02 L5.17,228.38 L5.54,227.75 L5.9,227.12 L6.27,226.49 L6.63,225.86 L6.99,225.23 L7.36,224.59 L7.72,223.96 L8.09,223.33 L8.45,222.7 L8.81,222.06 L9.18,221.43 L9.54,220.79 L9.91,220.16 L10.27,219.52 L10.64,218.89 L11,218.25 L11.36,217.61 L11.73,216.97 L12.09,216.33 L12.46,215.69 L12.82,215.05 L13.19,214.41 L13.55,213.77 L13.91,213.13 L14.28,212.48 L14.64,211.84 L15.01,211.19 L15.37,210.55 L15.74,209.9 L16.1,209.26 L16.46,208.61 L16.83,207.96 L17.19,207.31 L17.56,206.66 L17.92,206.01 L18.29,205.36 L18.65,204.7 L19.01,204.05 L19.38,203.4 L19.74,202.74 L20.11,202.09 L20.47,201.43 L20.83,200.77 L21.2,200.11 L21.56,199.45 L21.93,198.79 L22.29,198.13 L22.66,197.47 L23.02,196.8 L23.38,196.14 L23.75,195.48 L24.11,194.81 L24.48,194.14 L24.84,193.47 L25.21,192.8 L25.57,192.13 L25.93,191.46 L26.3,190.79 L26.66,190.12 L27.03,189.44 L27.39,188.77 L27.76,188.09 L28.12,187.41 L28.48,186.73 L28.85,186.05 L29.21,185.37 L29.58,184.69 L29.94,184 L30.31,183.32 L30.67,182.63 L31.03,181.95 L31.4,181.26 L31.76,180.57 L32.13,179.88 L32.49,179.18 L32.85,178.49 L33.22,177.8 L33.58,177.1 L33.95,176.4 L34.31,175.71 L34.68,175.01 L35.04,174.31 L35.4,173.6 L35.77,172.9 L36.13,172.2 L36.5,171.49 L36.86,170.78 L37.23,170.08 L37.59,169.37 L37.95,168.66 L38.32,167.94 L38.68,167.23 L39.05,166.52 L39.41,165.8 L39.78,165.08 L40.14,164.36 L40.5,163.65 L40.87,162.93 L41.23,162.2 L41.6,161.48 L41.96,160.76 L42.33,160.03 L42.69,159.3 L43.05,158.58 L43.42,157.85 L43.78,157.12 L44.15,156.39 L44.51,155.66 L44.87,154.92 L45.24,154.19 L45.6,153.46 L45.97,152.72 L46.33,151.98 L46.7,151.25 L47.06,150.51 L47.42,149.77 L47.79,149.03 L48.15,148.29 L48.52,147.55 L48.88,146.81 L49.25,146.07 L49.61,145.32 L49.97,144.58 L50.34,143.84 L50.7,143.1 L51.07,142.32 L51.43,141.54 L51.8,140.75 L52.16,139.97 L52.52,139.18 L52.89,138.39 L53.25,137.6 L53.62,136.81 L53.98,136.01 L54.35,135.22 L54.71,134.42 L55.07,133.63 L55.44,132.83 L55.8,132.03 L56.17,131.23 L56.53,130.43 L56.89,129.63 L57.26,128.83 L57.62,128.02 L57.99,127.22 L58.35,126.42 L58.72,125.61 L59.08,124.81 L59.44,124 L59.81,123.2 L60.17,122.39 L60.54,121.59 L60.9,120.78 L61.27,119.98 L61.63,119.17 L61.99,118.37 L62.36,117.56 L62.72,116.76 L63.09,115.96 L63.45,115.16 L63.82,114.36 L64.18,113.56 L64.54,112.76 L64.91,111.96 L65.27,111.17 L65.64,110.38 L66,109.59 L66.37,108.8 L66.73,108.01 L67.09,107.23 L67.46,106.45 L67.82,105.67 L68.19,104.89 L68.55,104.12 L68.92,103.35 L69.28,102.58 L69.64,101.82 L70.01,101.06 L70.37,100.31 L70.74,99.56 L71.1,98.82 L71.46,98.08 L71.83,97.34 L72.19,96.61 L72.56,95.89 L72.92,95.17 L73.29,94.45 L73.65,93.75 L74.01,93.05 L74.38,92.35 L74.74,91.66 L75.11,90.98 L75.47,90.31 L75.84,89.64 L76.2,88.99 L76.56,88.33 L76.93,87.69 L77.29,87.06 L77.66,86.43 L78.02,85.81 L78.39,85.21 L78.75,84.61 L79.11,84.02 L79.48,83.43 L79.84,82.86 L80.21,82.3 L80.57,81.75 L80.94,81.21 L81.3,80.67 L81.66,80.15 L82.03,79.64 L82.39,79.14 L82.76,78.65 L83.12,78.17 L83.48,77.7 L83.85,77.24 L84.21,76.79 L84.58,76.35 L84.94,75.93 L85.31,75.51 L85.67,75.11 L86.4,74.33 L87.13,73.6 L87.86,72.9 L88.58,72.26 L89.31,71.65 L90.04,71.08 L90.77,70.56 L91.5,70.07 L92.23,69.62 L92.96,69.2 L93.68,68.83 L94.41,68.48 L95.14,68.17 L95.87,67.89 L96.6,67.63 L97.33,67.41 L98.05,67.21 L98.78,67.03 L99.51,66.88 L100.24,66.75 L100.97,66.64 L101.7,66.55 L102.43,66.47 L103.15,66.41 L103.88,66.37 L104.61,66.34 L105.34,66.32 L106.07,66.31 L106.8,66.32 L107.52,66.33 L108.25,66.35 L108.98,66.38 L109.71,66.42 L110.44,66.46 L111.17,66.5 L111.9,66.56 L112.62,66.61 L113.35,66.67 L114.08,66.73 L114.81,66.8 L115.54,66.87 L116.27,66.93 L117,67.01 L117.72,67.08 L118.45,67.15 L119.18,67.22 L119.91,67.3 L120.64,67.37 L121.37,67.44 L122.09,67.51 L122.82,67.59 L123.55,67.66 L124.28,67.73 L125.01,67.8 L125.74,67.87 L126.47,67.94 L127.19,68.01 L127.92,68.07 L128.65,68.14 L129.38,68.2 L130.11,68.26 L130.84,68.32 L131.56,68.38 L132.29,68.44 L133.02,68.5 L133.75,68.55 L134.48,68.61 L135.21,68.66 L135.94,68.71 L136.66,68.76 L137.39,68.81 L138.12,68.86 L138.85,68.9 L139.58,68.95 L140.31,68.99 L141.04,69.03 L141.76,69.07 L142.49,69.11 L143.22,69.15 L143.95,69.19 L144.68,69.22 L145.41,69.26 L146.13,69.29 L146.86,69.32 L147.59,69.35 L148.32,69.38 L149.05,69.41 L149.78,69.44 L150.51,69.46 L151.23,69.49 L151.96,69.51 L152.69,69.54 L153.42,69.56 L154.15,69.58 L154.88,69.6 L155.6,69.62 L156.33,69.64 L157.06,69.65 L157.79,69.67 L158.52,69.69 L159.25,69.7 L159.98,69.71 L160.7,69.73 L161.43,69.74 L162.16,69.75 L162.89,69.76 L163.62,69.77 L164.35,69.77 L165.08,69.78 L165.8,69.79 L166.53,69.79 L167.26,69.8 L167.99,69.8 L168.72,69.8 L169.45,69.8 L170.17,69.8 L170.9,69.79 L171.63,69.79 L172.36,69.78 L173.09,69.78 L173.82,69.77 L174.55,69.75 L175.27,69.74 L176,69.72 L176.73,69.7 L177.46,69.68 L178.19,69.65 L178.92,69.62 L179.64,69.59 L180.37,69.54 L181.1,69.5 L181.83,69.44 L182.49,69.38 L182.92,69.34 L183.5,69.28 L183.97,69.22 L184.38,69.16 L184.86,69.09 L185.28,69.02 L185.84,68.92 L186.43,68.79 L186.93,68.67 L187.44,68.52 L188.02,68.34 L188.62,68.11 L189.12,67.89 L189.64,67.63 L190.09,67.38 L190.51,67.13 L190.94,66.86 L191.43,66.56 L191.91,66.35 L192.34,66.34 L192.76,66.73 L192.96,67.17 L193.12,67.7 L193.28,68.46 L193.39,69.07 L193.48,69.79 L193.58,70.61 L193.67,71.55 L193.76,72.61 L193.84,73.79 L193.93,75.1 L194,76.54 L194.08,78.11 L194.16,79.81 L194.21,81.26 L194.3,83.56 L194.37,85.61 L194.43,87.76 L194.49,90.01 L194.55,92.34 L194.58,93.31 L194.61,94.76 L194.67,97.25 L194.73,99.8 L194.78,102.4 L194.83,105.05 L194.88,107.74 L194.93,110.45 L194.94,111.25 L194.98,113.19 L195.02,115.95 L195.07,118.71 L195.11,121.48 L195.15,124.26 L195.19,127.03 L195.23,129.79 L195.26,132.55 L195.3,135.29 L195.31,135.87 L195.33,138.02 L195.37,140.74 L195.4,143.41 L195.43,145.97 L195.46,148.52 L195.49,151.06 L195.52,153.6 L195.55,156.13 L195.58,158.64 L195.6,161.14 L195.63,163.63 L195.65,166.1 L195.67,168.16 L195.7,171 L195.72,173.43 L195.74,175.84 L195.76,178.24 L195.78,180.62 L195.8,182.99 L195.82,185.35 L195.84,187.69 L195.86,190.02 L195.87,192.33 L195.89,194.64 L195.91,196.93 L195.92,199.21 L195.94,201.48 L195.95,203.74 L195.97,205.98 L195.98,208.22 L195.99,210.45 L196.01,212.67 L196.02,214.88 L196.03,217.09 L196.04,218.26 L196.04,219.28 L196.05,221.47 L196.06,223.65 L196.07,225.83 L196.08,228 L196.09,230.2 L196.1,230.9 L196.4,230.9"/>
<path stroke="#ff0000" d="M-349.6,230.9 L-348.87,230.9 L-348.14,230.9 L-347.41,230.9 L-346.69,230.9 L-345.96,230.9 L-345.23,230.9 L-344.5,230.9 L-343.77,230.9 L-343.04,230.9 L-342.32,230.9 L-341.59,230.9 L-340.86,230.9 L-340.13,230.9 L-339.4,230.9 L-338.67,230.9 L-337.94,230.9 L-337.22,230.9 L-336.49,230.9 L-335.76,230.9 L-335.03,230.9 L-334.3,230.9 L-333.57,230.9 L-332.84,230.9 L-332.12,230.9 L-331.39,230.9 L-330.66,230.9 L-329.93,230.9 L-329.2,230.9 L-328.47,230.9 L-327.75,230.9 L-327.02,230.9 L-326.29,230.9 L-325.56,230.9 L-324.83,230.9 L-324.1,230.9 L-323.37,230.9 L-322.65,230.9 L-321.92,230.9 L-321.19,230.9 L-320.46,230.9 L-319.73,230.9 L-319,230.9 L-318.28,230.9 L-317.55,230.9 L-316.82,230.9 L-316.09,230.9 L-315.36,230.9 L-314.63,230.9 L-313.9,230.9 L-313.18,230.9 L-312.45,230.9 L-311.72,230.9 L-310.99,230.9 L-310.26,230.9 L-309.53,230.9 L-308.8,230.9 L-308.08,230.9 L-307.35,230.9 L-306.62,230.9 L-305.89,230.9 L-305.16,230.9 L-304.43,230.9 L-303.71,230.9 L-302.98,230.9 L-302.25,230.9 L-301.52,230.9 L-300.79,230.9 L-300.06,230.9 L-299.33,230.9 L-298.61,230.9 L-297.88,230.9 L-297.15,230.9 L-296.42,230.9 L-295.69,230.9 L-294.96,230.9 L-294.24,230.9 L-293.51,230.9 L-292.78,230.9 L-292.05,230.9 L-291.32,230.9 L-290.59,230.9 L-289.86,230.9 L-289.14,230.9 L-288.41,230.9 L-287.68,230.9 L-286.95,230.9 L-286.22,230.9 L-285.49,230.9 L-284.76,230.9 L-284.04,230.9 L-283.31,230.9 L-282.58,230.9 L-281.85,230.9 L-281.12,230.9 L-280.39,230.9 L-279.67,230.9 L-278.94,230.9 L-278.21,230.9 L-277.48,230.9 L-276.75,230.9 L-276.02,230.9 L-275.29,230.9 L-274.57,230.9 L-273.84,230.9 L-273.11,230.9 L-272.38,230.9 L-271.65,230.9 L-270.92,230.9 L-270.2,230.9 L-269.47,230.9 L-268.74,230.9 L-268.01,230.9 L-267.28,230.9 L-266.55,230.9 L-265.82,230.9 L-265.1,230.9 L-264.37,230.9 L-263.64,230.9 L-262.91,230.9 L-262.18,230.9 L-261.45,230.9 L-260.72,230.9 L-260,230.9 L-259.27,230.9 L-258.54,230.9 L-257.81,230.9 L-257.08,230.9 L-256.35,230.9 L-255.63,230.9 L-254.9,230.9 L-254.17,230.9 L-253.44,230.9 L-252.71,230.9 L-251.98,230.9 L-251.25,230.9 L-250.53,230.9 L-249.8,230.9 L-249.07,230.9 L-248.34,230.9 L-247.61,230.9 L-246.88,230.9 L-246.16,230.9 L-245.43,230.9 L-244.7,230.9 L-243.97,230.9 L-243.24,230.9 L-242.51,230.9 L-241.78,230.9 L-241.06,230.9 L-240.33,230.9 L-239.6,230.9 L-238.87,230.9 L-238.14,230.9 L-237.41,230.9 L-236.68,230.9 L-235.96,230.9 L-235.23,230.9 L-234.5,230.9 L-233.77,230.9 L-233.04,230.9 L-232.31,230.9 L-231.59,230.9 L-230.86,230.9 L-230.13,230.9 L-229.4,230.9 L-228.67,230.9 L-227.94,230.9 L-227.21,230.9 L-226.49,230.9 L-225.76,230.9 L-225.03,230.9 L-224.3,230.9 L-223.57,230.9 L-222.84,230.9 L-222.12,230.9 L-221.39,230.9 L-220.66,230.9 L-219.93,230.9 L-219.2,230.9 L-218.47,230.9 L-217.74,230.9 L-217.02,230.9 L-216.29,230.9 L-215.56,230.9 L-214.83,230.9 L-214.1,230.9 L-213.37,230.9 L-212.64,230.9 L-211.92,230.9 L-211.19,230.9 L-210.46,230.9 L-209.73,230.9 L-209,230.9 L-208.27,230.9 L-207.55,230.9 L-206.82,230.9 L-206.09,230.9 L-205.36,230.9 L-204.63,230.9 L-203.9,230.9 L-203.17,230.9 L-202.45,230.9 L-201.72,230.9 L-200.99,230.9 L-200.26,230.9 L-199.53,230.9 L-198.8,230.9 L-198.07,230.9 L-197.35,230.9 L-196.62,230.9 L-195.89,230.9 L-195.16,230.9 L-194.43,230.9 L-193.7,230.9 L-192.98,230.9 L-192.25,230.9 L-191.52,230.9 L-190.79,230.9 L-190.06,230.9 L-189.33,230.9 L-188.6,230.9 L-187.88,230.9 L-187.15,230.9 L-186.42,230.9 L-185.69,230.9 L-184.96,230.9 L-184.23,230.9 L-183.51,230.9 L-182.78,230.9 L-182.05,230.9 L-181.32,230.9 L-180.59,230.9 L-179.86,230.9 L-179.13,230.9 L-178.41,230.9 L-177.68,230.9 L-176.95,230.9 L-176.22,230.9 L-175.49,230.9 L-174.76,230.9 L-174.03,230.9 L-173.31,230.9 L-172.58,230.9 L-171.85,230.9 L-171.12,230.9 L-170.39,230.9 L-169.66,230.9 L-168.94,230.9 L-168.21,230.9 L-167.48,230.9 L-166.75,230.9 L-166.02,230.9 L-165.29,230.9 L-164.56,230.9 L-163.84,230.9 L-163.11,230.9 L-162.38,230.9 L-161.65,230.9 L-160.92,230.9 L-160.19,230.9 L-159.47,230.9 L-158.74,230.9 L-158.01,230.9 L-157.28,230.9 L-156.55,230.9 L-155.82,230.9 L-155.09,230.9 L-154.37,230.9 L-153.64,230.9 L-152.91,230.9 L-152.18,230.9 L-151.45,230.9 L-150.72,230.9 L-149.99,230.9 L-149.27,230.9 L-148.54,230.9 L-147.81,230.9 L-147.08,230.9 L-146.35,230.9 L-145.62,230.9 L-144.9,230.9 L-144.17,230.9 L-143.44,230.9 L-142.71,230.9 L-141.98,230.9 L-141.25,230.9 L-140.52,230.9 L-139.8,230.9 L-139.07,230.9 L-138.34,230.9 L-137.61,230.9 L-136.88,230.9 L-136.15,230.9 L-135.43,230.9 L-134.7,230.9 L-133.97,230.9 L-133.24,230.9 L-132.51,230.9 L-131.78,230.9 L-131.05,230.9 L-130.33,230.9 L-129.6,230.9 L-128.87,230.9 L-128.14,230.9 L-127.41,230.9 L-126.68,230.9 L-125.95,230.9 L-125.23,230.9 L-124.5,230.9 L-123.77,230.9 L-123.04,230.9 L-122.31,230.9 L-121.58,230.9 L-120.86,230.9 L-120.13,230.9 L-119.4,230.9 L-118.67,230.9 L-117.94,230.9 L-117.21,230.9 L-116.48,230.9 L-115.76,230.9 L-115.03,230.9 L-114.3,230.9 L-113.57,230.9 L-112.84,230.9 L-112.11,230.9 L-111.39,230.9 L-110.66,230.9 L-109.93,230.9 L-109.2,230.9 L-108.47,230.9 L-107.74,230.9 L-107.01,230.9 L-106.29,230.9 L-105.56,230.9 L-104.83,230.9 L-104.1,230.9 L-103.37,230.9 L-102.64,230.9 L-101.91,230.9 L-101.19,230.9 L-100.46,230.9 L-99.73,230.9 L-99,230.9 L-98.27,230.9 L-97.54,230.9 L-96.82,230.9 L-96.09,230.9 L-95.36,230.9 L-94.63,230.9 L-93.9,230.9 L-93.17,230.9 L-92.44,230.9 L-91.72,230.9 L-90.99,230.9 L-90.26,230.9 L-89.53,230.9 L-88.8,230.9 L-88.07,230.9 L-87.35,230.9 L-86.62,230.9 L-85.89,230.9 L-85.16,230.9 L-84.43,230.9 L-83.7,230.9 L-82.97,230.9 L-82.25,230.9 L-81.52,230.9 L-80.79,230.9 L-80.06,230.9 L-79.33,230.9 L-78.6,230.9 L-77.87,230.9 L-77.15,230.9 L-76.42,230.9 L-75.69,230.9 L-74.96,230.9 L-74.23,230.9 L-73.5,230.9 L-72.78,230.9 L-72.05,230.9 L-71.32,230.9 L-70.59,230.9 L-69.86,230.9 L-69.13,230.9 L-68.4,230.9 L-67.68,230.9 L-66.95,230.9 L-66.22,230.9 L-65.49,230.9 L-64.76,230.9 L-64.03,230.9 L-63.31,230.9 L-62.58,230.9 L-61.85,230.9 L-61.12,230.9 L-60.39,230.9 L-59.66,230.9 L-58.93,230.9 L-58.21,230.9 L-57.48,230.9 L-56.75,230.9 L-56.02,230.9 L-55.29,230.9 L-54.56,230.9 L-53.83,230.9 L-53.11,230.9 L-52.38,230.9 L-51.65,230.9 L-50.92,230.9 L-50.19,230.9 L-49.46,230.9 L-48.74,230.9 L-48.01,230.9 L-47.28,230.9 L-46.55,230.9 L-45.82,230.9 L-45.09,230.9 L-44.36,230.9 L-43.64,230.9 L-42.91,230.9 L-42.18,230.9 L-41.45,230.9 L-40.72,230.9 L-39.99,230.9 L-39.27,230.9 L-38.54,230.9 L-37.81,230.9 L-37.08,230.9 L-36.35,230.9 L-35.62,230.9 L-34.89,230.9 L-34.17,230.9 L-33.44,230.9 L-32.71,230.9 L-31.98,230.9 L-31.25,230.9 L-30.52,230.9 L-29.79,230.9 L-29.07,230.9 L-28.34,230.9 L-27.61,230.9 L-26.88,230.9 L-26.15,230.9 L-25.42,230.9 L-24.7,230.9 L-23.97,230.9 L-23.24,230.9 L-22.51,230.9 L-21.78,230.9 L-21.05,230.9 L-20.32,230.9 L-19.6,230.9 L-18.87,230.9 L-18.14,230.9 L-17.41,230.9 L-16.68,230.9 L-15.95,230.9 L-15.23,230.9 L-14.5,230.9 L-13.77,230.9 L-13.04,230.9 L-12.31,230.9 L-11.58,230.9 L-10.85,230.9 L-10.13,230.9 L-9.4,230.9 L-8.67,230.9 L-7.94,230.9 L-7.21,230.9 L-6.48,230.9 L-5.75,230.9 L-5.03,230.9 L-4.3,230.9 L-3.57,230.9 L-2.84,230.9 L-2.11,230.9 L-1.38,230.9 L-0.66,230.9 L0.07,230.9 L0.8,230.9 L1.53,230.9 L2.26,230.9 L2.99,230.9 L3.72,230.9 L4.08,230.3 L4.44,229.66 L4.81,229.02 L5.17,228.38 L5.54,227.74 L5.9,227.1 L6.27,226.45 L6.63,225.81 L6.99,225.17 L7.36,224.52 L7.72,223.88 L8.09,223.23 L8.45,222.58 L8.81,221.94 L9.18,221.29 L9.54,220.64 L9.91,219.99 L10.27,219.34 L10.64,218.69 L11,218.04 L11.36,217.39 L11.73,216.73 L12.09,216.08 L12.46,215.42 L12.82,214.77 L13.19,214.11 L13.55,213.45 L13.91,212.8 L14.28,212.14 L14.64,211.48 L15.01,210.82 L15.37,210.16 L15.74,209.49 L16.1,208.83 L16.46,208.17 L16.83,207.5 L17.19,206.83 L17.56,206.17 L17.92,205.5 L18.29,204.83 L18.65,204.16 L19.01,203.49 L19.38,202.81 L19.74,202.14 L20.11,201.47 L20.47,200.79 L20.83,200.11 L21.2,199.43 L21.56,198.76 L21.93,198.07 L22.29,197.39 L22.66,196.71 L23.02,196.02 L23.38,195.34 L23.75,194.65 L24.11,193.96 L24.48,193.27 L24.84,192.58 L25.21,191.89 L25.57,191.19 L25.93,190.5 L26.3,189.8 L26.66,189.1 L27.03,188.4 L27.39,187.7 L27.76,187 L28.12,186.29 L28.48,185.59 L28.85,184.88 L29.21,184.17 L29.58,183.46 L29.94,182.74 L30.31,182.03 L30.67,181.31 L31.03,180.59 L31.4,179.87 L31.76,179.15 L32.13,178.43 L32.49,177.7 L32.85,176.97 L33.22,176.24 L33.58,175.51 L33.95,174.78 L34.31,174.04 L34.68,173.3 L35.04,172.56 L35.4,171.82 L35.77,171.07 L36.13,170.33 L36.5,169.58 L36.86,168.83 L37.23,168.07 L37.59,167.32 L37.95,166.56 L38.32,165.8 L38.68,165.03 L39.05,164.27 L39.41,163.5 L39.78,162.73 L40.14,161.96 L40.5,161.18 L40.87,160.4 L41.23,159.62 L41.6,158.84 L41.96,158.05 L42.33,157.26 L42.69,156.47 L43.05,155.67 L43.42,154.88 L43.78,154.08 L44.15,153.27 L44.51,152.47 L44.87,151.66 L45.24,150.84 L45.6,150.03 L45.97,149.21 L46.33,148.39 L46.7,147.56 L47.06,146.73 L47.42,145.9 L47.79,145.07 L48.15,144.23 L48.52,143.39 L48.88,142.54 L49.25,141.69 L49.61,140.84 L49.97,139.99 L50.34,139.13 L50.7,138.27 L51.07,137.4 L51.43,136.53 L51.8,135.66 L52.16,134.78 L52.52,133.9 L52.89,133.02 L53.25,132.13 L53.62,131.24 L53.98,130.34 L54.35,129.44 L54.71,128.54 L55.07,127.64 L55.44,126.72 L55.8,125.81 L56.17,124.89 L56.53,123.97 L56.89,123.04 L57.26,122.11 L57.62,121.18 L57.99,120.24 L58.35,119.3 L58.72,118.36 L59.08,117.41 L59.44,116.45 L59.81,115.49 L60.17,114.53 L60.54,113.57 L60.9,112.6 L61.27,111.63 L61.63,110.65 L61.99,109.67 L62.36,108.68 L62.72,107.69 L63.09,106.7 L63.45,105.71 L63.82,104.71 L64.18,103.71 L64.54,102.7 L64.91,101.69 L65.27,100.68 L65.64,99.66 L66,98.64 L66.37,97.62 L66.73,96.59 L67.09,95.56 L67.46,94.53 L67.82,93.5 L68.19,92.46 L68.55,91.42 L68.92,90.38 L69.28,89.34 L69.64,88.3 L70.01,87.25 L70.37,86.2 L70.74,85.16 L71.1,84.11 L71.46,83.06 L71.83,82.01 L72.19,80.96 L72.56,79.91 L72.92,78.86 L73.29,77.81 L73.65,76.76 L74.01,75.72 L74.38,74.67 L74.74,73.63 L75.11,72.6 L75.47,71.56 L75.84,70.53 L76.2,69.5 L76.56,68.48 L76.93,67.47 L77.29,66.46 L77.66,65.45 L78.02,64.46 L78.39,63.47 L78.75,62.49 L79.11,61.52 L79.48,60.56 L79.84,59.61 L80.21,58.67 L80.57,57.74 L80.94,56.83 L81.3,55.93 L81.66,55.04 L82.03,54.17 L82.39,53.31 L82.76,52.47 L83.12,51.65 L83.48,50.85 L83.85,50.06 L84.21,49.29 L84.58,48.55 L84.94,47.82 L85.31,47.12 L85.67,46.44 L86.03,45.78 L86.4,45.14 L86.76,44.53 L87.13,43.95 L87.49,43.38 L87.86,42.85 L88.22,42.33 L88.58,41.85 L88.95,41.39 L89.31,40.95 L89.68,40.54 L90.41,39.8 L91.13,39.17 L91.86,38.64 L92.59,38.2 L93.32,37.87 L94.05,37.63 L94.78,37.48 L95.5,37.41 L96.23,37.42 L96.96,37.51 L97.69,37.66 L98.42,37.87 L99.15,38.14 L99.88,38.47 L100.6,38.84 L101.33,39.24 L102.06,39.69 L102.79,40.17 L103.52,40.67 L104.25,41.2 L104.98,41.75 L105.7,42.32 L106.43,42.9 L107.16,43.49 L107.89,44.1 L108.62,44.71 L109.35,45.32 L110.07,45.95 L110.8,46.57 L111.53,47.2 L112.26,47.83 L112.99,48.46 L113.72,49.08 L114.45,49.71 L115.17,50.34 L115.9,50.96 L116.63,51.58 L117.36,52.2 L118.09,52.82 L118.82,53.44 L119.54,54.05 L120.27,54.66 L121,55.27 L121.73,55.87 L122.46,56.47 L123.19,57.07 L123.92,57.67 L124.64,58.26 L125.37,58.86 L126.1,59.45 L126.83,60.04 L127.56,60.62 L128.29,61.21 L129.02,61.79 L129.74,62.37 L130.47,62.95 L131.2,63.53 L131.93,64.11 L132.66,64.69 L133.39,65.26 L134.11,65.84 L134.84,66.41 L135.57,66.98 L136.3,67.55 L137.03,68.12 L137.76,68.69 L138.49,69.26 L139.21,69.82 L139.94,70.39 L140.67,70.95 L141.4,71.51 L142.13,72.07 L142.86,72.62 L143.58,73.17 L144.31,73.72 L145.04,74.26 L145.77,74.8 L146.5,75.34 L147.23,75.87 L147.96,76.4 L148.68,76.92 L149.41,77.44 L150.14,77.95 L150.87,78.45 L151.6,78.94 L152.33,79.43 L153.06,79.9 L153.78,80.37 L154.51,80.82 L155.24,81.27 L155.97,81.7 L156.7,82.12 L157.43,82.53 L158.15,82.92 L158.88,83.29 L159.61,83.65 L160.34,83.99 L161.07,84.31 L161.8,84.61 L162.53,84.89 L163.25,85.14 L163.98,85.38 L164.71,85.58 L165.44,85.76 L166.17,85.91 L166.9,86.03 L167.62,86.11 L168.35,86.16 L169.08,86.18 L169.81,86.15 L170.54,86.09 L171.27,85.98 L172,85.83 L172.72,85.63 L173.45,85.38 L174.18,85.08 L174.91,84.71 L175.64,84.29 L176.37,83.81 L177.1,83.26 L177.82,82.64 L178.55,81.95 L179.28,81.17 L179.64,80.76 L180.01,80.32 L180.37,79.86 L180.74,79.37 L181.1,78.87 L181.47,78.33 L181.83,77.78 L182.19,77.2 L182.49,76.71 L182.92,75.95 L183.29,75.29 L183.65,74.59 L183.97,73.95 L184.38,73.11 L184.74,72.32 L185.11,71.49 L185.47,70.63 L185.68,70.13 L185.84,69.73 L186.06,69.16 L186.43,68.18 L186.78,67.2 L186.93,66.77 L187.12,66.22 L187.29,65.69 L187.44,65.23 L187.66,64.55 L188.02,63.36 L188.35,62.24 L188.62,61.23 L188.75,60.76 L188.89,60.23 L189.12,59.35 L189.4,58.19 L189.64,57.17 L189.84,56.24 L190.09,55.09 L190.21,54.51 L190.3,54.05 L190.51,52.99 L190.7,51.93 L190.9,50.85 L191.08,49.78 L191.26,48.7 L191.43,47.61 L191.59,46.53 L191.66,46.05 L191.75,45.46 L191.91,44.4 L192.03,43.54 L192.2,42.35 L192.34,41.38 L192.47,40.47 L192.6,39.64 L192.72,38.9 L192.84,38.28 L192.96,37.81 L193.18,37.4 L193.39,37.92 L193.48,38.58 L193.58,39.54 L193.67,40.81 L193.76,42.39 L193.84,44.27 L193.93,46.44 L194,48.87 L194.08,51.56 L194.16,54.45 L194.21,56.92 L194.23,57.53 L194.3,60.76 L194.37,64.12 L194.43,67.57 L194.49,71.09 L194.55,74.66 L194.58,76.12 L194.61,78.26 L194.67,81.88 L194.73,85.49 L194.78,89.1 L194.83,92.68 L194.88,96.24 L194.93,99.76 L194.94,100.78 L194.98,103.24 L195.02,106.69 L195.07,110.09 L195.11,113.44 L195.15,116.75 L195.19,120.02 L195.23,123.23 L195.26,126.4 L195.3,129.53 L195.31,130.18 L195.33,132.6 L195.37,135.64 L195.4,138.63 L195.43,141.58 L195.46,144.49 L195.49,147.36 L195.52,150.19 L195.55,152.98 L195.58,155.74 L195.6,158.47 L195.63,161.16 L195.65,163.82 L195.67,166.03 L195.68,166.45 L195.7,169.06 L195.72,171.63 L195.74,174.18 L195.76,176.71 L195.78,179.21 L195.8,181.69 L195.82,184.15 L195.84,186.58 L195.86,189 L195.87,191.4 L195.89,193.79 L195.91,196.15 L195.92,198.5 L195.94,200.84 L195.95,203.16 L195.97,205.47 L195.98,207.77 L195.99,210.06 L196.01,212.33 L196.02,214.6 L196.03,216.85 L196.04,218.05 L196.04,219.1 L196.05,221.33 L196.06,223.56 L196.07,225.78 L196.08,227.99 L196.09,230.2 L196.1,230.9 L196.4,230.9"/>
</g>
<rect x="57.4" y="33.1" width="138.8" height="98.8" fill="none" stroke="#000" stroke-width="1.8"/>
<g font-family="Liberation Serif" font-weight="bold" font-size="7.5" text-anchor="middle">
<text x="64" y="40.9">6</text>
<text x="64" y="53.7">4</text>
<text x="64" y="67.5">2</text>
<text x="64" y="80.89999999999999">0</text>
</g>
<g fill="none" stroke="#000" stroke-width="1.6">
<line x1="293.8" y1="39.8" x2="379.4" y2="39.8" stroke-dasharray="8 4.4" stroke-dashoffset="5.9"/>
<line x1="293.8" y1="86.4" x2="379.4" y2="86.4" stroke-dasharray="8.1 4.35" stroke-dashoffset="8.45"/>
<line x1="293.8" y1="39.0" x2="293.8" y2="86.4" stroke-dasharray="8.6 4.6"/>
<line x1="379.09999999999997" y1="54.7" x2="379.09999999999997" y2="63.3" stroke-width="1.2"/>
<line x1="379.09999999999997" y1="67.9" x2="379.09999999999997" y2="76.5" stroke-width="1.2"/>
<line x1="379.09999999999997" y1="81.1" x2="379.09999999999997" y2="86.4" stroke-width="1.2"/>
</g>
<rect x="229" y="205.8" width="134" height="30" fill="#fff" stroke="#000" stroke-width="1.4"/>
<line x1="233.4" y1="214" x2="247.4" y2="214" stroke="#0000ff" stroke-width="3.2" stroke-linecap="round"/>
<line x1="233.4" y1="227.6" x2="247.4" y2="227.6" stroke="#ff0000" stroke-width="3.2" stroke-linecap="round"/>
<g font-family="Liberation Serif" font-weight="bold" font-size="11.4">
<text x="252.9" y="218.7">Without</text>
<text x="296.7" y="218.7">ELD</text>
<text x="324.0" y="218.7">Effect</text>
<text x="253.1" y="233.2">With</text>
<text x="282.6" y="233.2">1Ts</text>
<text x="303.1" y="233.2">ELD</text>
<text x="329.8" y="233.2">Effect</text>
</g>
<g font-family="Liberation Serif" font-weight="bold" font-size="12.4" text-anchor="end">
<text x="33.8" y="23.4">20</text>
<text x="33.8" y="67">0</text>
<text x="33.8" y="110.6">-20</text>
<text x="33.8" y="154.2">-40</text>
<text x="33.8" y="197.8">-60</text>
<text x="33.8" y="241.4">-80</text>
<text x="33.8" y="285">-100</text>
</g>
<g font-family="Liberation Serif" font-weight="bold">
<text x="34.3" y="295.6" font-size="12.6">10</text><text x="47.5" y="289.4" font-size="8.6">0</text>
<text x="86.97" y="295.6" font-size="12.6">10</text><text x="100.17" y="289.4" font-size="8.6">1</text>
<text x="143.84" y="295.6" font-size="12.6">10</text><text x="157.04" y="289.4" font-size="8.6">2</text>
<text x="200.71" y="295.6" font-size="12.6">10</text><text x="213.91" y="289.4" font-size="8.6">3</text>
<text x="257.58" y="295.6" font-size="12.6">10</text><text x="270.78" y="289.4" font-size="8.6">4</text>
<text x="314.45" y="295.6" font-size="12.6">10</text><text x="327.65" y="289.4" font-size="8.6">5</text>
<text x="371.32" y="295.6" font-size="12.6">10</text><text x="384.52" y="289.4" font-size="8.6">6</text>
</g>
<text x="208.7" y="311.7" font-family="Liberation Serif" font-weight="bold" font-size="12.5" text-anchor="middle">Frequency (Hz)</text>
<text transform="translate(10.4,150.8) rotate(-90)" font-family="Liberation Serif" font-weight="bold" font-size="12.6" text-anchor="middle">Magnitude (dB)</text>
<text x="208.9" y="11.5" font-family="Liberation Serif" font-weight="bold" font-size="13.5" text-anchor="middle">Noise Transfer Function</text>
</svg>
</body></html>
